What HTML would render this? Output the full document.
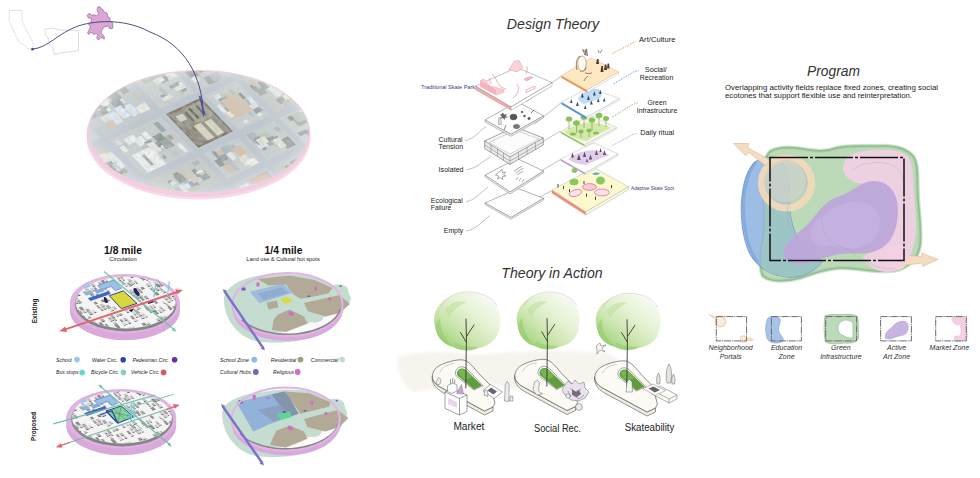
<!DOCTYPE html>
<html>
<head>
<meta charset="utf-8">
<title>Design Board</title>
<style>
html,body{margin:0;padding:0;background:#fff;}
body{width:980px;height:478px;overflow:hidden;font-family:"Liberation Sans",sans-serif;}
svg{display:block;}
text{font-family:"Liberation Sans",sans-serif;}
.t{font-style:italic;fill:#333;}
.h{fill:#222;}
.lg{font-style:italic;fill:#222;font-size:5.15px;}
</style>
</head>
<body>
<svg width="980" height="478" viewBox="0 0 980 478">
<defs>
  <filter id="b1" x="-20%" y="-20%" width="140%" height="140%"><feGaussianBlur stdDeviation="0.6"/></filter>
  <filter id="b2" x="-20%" y="-20%" width="140%" height="140%"><feGaussianBlur stdDeviation="1.5"/></filter>
  <filter id="b4" x="-30%" y="-30%" width="160%" height="160%"><feGaussianBlur stdDeviation="4"/></filter>
  <filter id="noiseA" x="0" y="0" width="100%" height="100%"><feTurbulence type="fractalNoise" baseFrequency="0.22" numOctaves="3" seed="4"/><feColorMatrix type="matrix" values="0 0 0 0 0.50  0 0 0 0 0.54  0 0 0 0 0.56  1.6 0.8 0 0 -0.9"/></filter>
  <radialGradient id="haze" cx="0.5" cy="0.5" r="0.5"><stop offset="0.55" stop-color="#fff" stop-opacity="0"/><stop offset="0.9" stop-color="#fff" stop-opacity="0.14"/><stop offset="1" stop-color="#fff" stop-opacity="0.3"/></radialGradient>
  <clipPath id="aerial"><ellipse cx="199" cy="131.6" rx="110" ry="61"/></clipPath>
</defs>
<rect width="980" height="478" fill="#fff"/>

<!-- ============ SECTION A: top-left aerial disc ============ -->
<g id="secA">
  <!-- pink base disc -->
  <ellipse cx="198.5" cy="137.5" rx="112" ry="62" fill="#f7dbe8" filter="url(#b1)"/>
  <ellipse cx="198.5" cy="134" rx="111.8" ry="63" fill="#f3cde0"/>
  <!-- aerial -->
  <ellipse cx="199" cy="131.6" rx="110" ry="61" fill="#c3cac8"/>
  <g clip-path="url(#aerial)">
<rect x="80" y="60" width="240" height="140" fill="#c2c9cd"/>
<g transform="matrix(34,-16,33,34.5,166,114)">
<path fill="#c0c8ca" d="M-2.93 -2.53h1.14v1.16h-1.14zM-2.93 -0.01h1.14v1.02h-1.14zM-2.93 1.15h1.14v0.73h-1.14zM-1.65 -1.23h1.5v1.08h-1.5zM-1.65 2.02h1.5v0.91h-1.5zM2.22 2.02h1.01v0.91h-1.01z"/>
<path fill="#c7cccc" d="M-2.93 -1.23h1.14v1.08h-1.14zM-1.65 -0.01h1.5v1.02h-1.5zM-0.01 2.02h1.02v0.91h-1.02zM1.15 -1.23h0.93v1.08h-0.93zM1.15 1.15h0.93v0.73h-0.93zM2.22 -1.23h1.01v1.08h-1.01z"/>
<path fill="#c3cacb" d="M-2.93 2.02h1.14v0.91h-1.14zM-0.01 -2.53h1.02v1.16h-1.02zM1.15 -2.53h0.93v1.16h-0.93z"/>
<path fill="#c5cac6" d="M-1.65 -2.53h1.5v1.16h-1.5zM-1.65 1.15h1.5v0.73h-1.5zM1.15 2.02h0.93v0.91h-0.93zM2.22 -0.01h1.01v1.02h-1.01z"/>
<path fill="#cacecd" d="M-0.01 -1.23h1.02v1.08h-1.02zM-0.01 1.15h1.02v0.73h-1.02zM1.15 -0.01h0.93v1.02h-0.93zM2.22 -2.53h1.01v1.16h-1.01zM2.22 1.15h1.01v0.73h-1.01z"/>
<path fill="#cfc8bc" d="M0.05 -1.73h0.22v0.11h-0.22zM-0.83 -0.49h0.17v0.16h-0.17zM-2.2 0.02h0.23v0.19h-0.23zM-1.54 -0.85h0.1v0.11h-0.1zM-1.22 0.05h0.11v0.13h-0.11zM-0.46 0.47h0.23v0.11h-0.23zM-2.89 2.06h0.25v0.25h-0.25z"/>
<path fill="#d4bfa8" d="M1.53 2.26h0.24v0.11h-0.24zM-1.48 -0.33h0.27v0.11h-0.27zM-1.43 0.82h0.27v0.12h-0.27zM1.42 -0.7h0.14v0.25h-0.14zM-2.08 1.29h0.17v0.09h-0.17zM-2.83 0.05h0.19v0.22h-0.19zM0.45 2.51h0.28v0.13h-0.28zM2.68 -0.89h0.1v0.13h-0.1zM-2.89 2.41h0.22v0.13h-0.22zM-2.11 -1.16h0.14v0.18h-0.14zM0.16 -1.15h0.24v0.19h-0.24zM-2.71 2.21h0.15v0.23h-0.15z"/>
<path fill="#dfe6ee" d="M2.44 -0.96h0.24v0.27h-0.24zM1.18 -2.44h0.21v0.17h-0.21zM1.4 0.86h0.13v0.09h-0.13zM2.65 2.64h0.14v0.23h-0.14zM0.74 -0.7h0.1v0.07h-0.1zM-1.33 -0.9h0.19v0.2h-0.19zM-1.48 1.68h0.13v0.13h-0.13zM3.09 2.29h0.1v0.24h-0.1zM2.74 2.44h0.21v0.11h-0.21zM-1.46 -0.8h0.17v0.09h-0.17z"/>
<path fill="#8f98a2" d="M-2.52 -0.73h0.23v0.26h-0.23zM0.28 2.3h0.22v0.13h-0.22zM0.44 -2.46h0.1v0.25h-0.1zM-0.8 0.45h0.1v0.11h-0.1zM-1.54 2.26h0.21v0.11h-0.21zM1.57 2.12h0.22v0.08h-0.22zM-0.91 0.69h0.08v0.19h-0.08zM-2.39 -1.53h0.19v0.08h-0.19zM0.33 1.24h0.11v0.24h-0.11zM0.17 -1.8h0.11v0.11h-0.11z"/>
<path fill="#e8e2d6" d="M-1.57 0.06h0.1v0.21h-0.1zM-1.44 -2.4h0.27v0.16h-0.27zM2.72 1.19h0.11v0.26h-0.11zM0.23 2.52h0.27v0.13h-0.27zM0.77 -1.5h0.13v0.1h-0.13zM-1.55 -2.34h0.17v0.24h-0.17zM-2.29 0.64h0.26v0.2h-0.26zM-1.3 -2.45h0.11v0.23h-0.11zM0.16 -1.14h0.23v0.22h-0.23zM0.54 -1.7h0.15v0.09h-0.15zM0.67 -1.71h0.17v0.09h-0.17zM1.21 -1.97h0.26v0.16h-0.26zM-0.35 -0.44h0.15v0.1h-0.15zM-0.47 2.66h0.21v0.15h-0.21zM1.64 1.57h0.25v0.12h-0.25zM2.71 2.33h0.19v0.24h-0.19zM-0.6 -1.87h0.17v0.16h-0.17zM-0.62 -1.57h0.16v0.12h-0.16z"/>
<path fill="#929ca0" d="M-1.14 2.11h0.28v0.17h-0.28zM-0.67 -1h0.24v0.1h-0.24zM-1.29 1.36h0.1v0.1h-0.1zM-2.79 2.34h0.13v0.27h-0.13zM2.38 -0.41h0.18v0.19h-0.18zM0.65 2.09h0.27v0.26h-0.27zM-1.01 2.39h0.16v0.24h-0.16zM-1.23 -1.66h0.12v0.23h-0.12zM-0.44 0.07h0.13v0.26h-0.13z"/>
<path fill="#b4bcc2" d="M0.47 1.19h0.22v0.2h-0.22zM0.51 -1.73h0.13v0.16h-0.13zM2.75 2.12h0.22v0.16h-0.22zM2.48 0.22h0.22v0.13h-0.22zM-1.15 0.36h0.17v0.18h-0.17zM1.39 1.34h0.17v0.21h-0.17zM2.4 -0.45h0.28v0.08h-0.28zM2.74 -0.62h0.1v0.19h-0.1z"/>
<path fill="#eef0f0" d="M-1.16 0.2h0.23v0.22h-0.23zM1.62 0.39h0.18v0.27h-0.18zM0.24 2.68h0.14v0.14h-0.14zM2.31 -2.36h0.22v0.14h-0.22zM-1.35 0.1h0.23v0.17h-0.23zM-2.89 -0.83h0.18v0.18h-0.18zM-0.37 0.69h0.1v0.26h-0.1zM0.47 -1.09h0.24v0.17h-0.24zM1.79 -2.14h0.22v0.19h-0.22zM-2.9 1.6h0.27v0.11h-0.27zM-1.16 0.11h0.09v0.27h-0.09z"/>
<path fill="#98a09c" d="M0.66 2.66h0.15v0.14h-0.15zM2.58 0.83h0.15v0.14h-0.15zM2.3 -1.17h0.11v0.13h-0.11zM2.6 1.61h0.19v0.17h-0.19zM1.3 0.42h0.28v0.2h-0.28zM-2.81 0.59h0.17v0.27h-0.17zM-0.44 -2.32h0.17v0.15h-0.17zM0.52 -0.8h0.19v0.16h-0.19zM1.48 1.43h0.15v0.19h-0.15zM2.5 0.74h0.26v0.14h-0.26zM1.19 -0.66h0.22v0.26h-0.22zM1.59 -1.81h0.28v0.08h-0.28zM1.46 2.4h0.08v0.11h-0.08z"/>
<path fill="#e6e9ea" d="M-0.75 0.48h0.25v0.16h-0.25zM-0.65 -0.85h0.07v0.24h-0.07zM0.73 -2.29h0.23v0.24h-0.23zM-2.33 0.19h0.26v0.21h-0.26zM-1.58 -2.26h0.25v0.26h-0.25zM0.08 2.14h0.24v0.08h-0.24zM-2.58 -1.6h0.27v0.19h-0.27zM0.37 1.37h0.17v0.12h-0.17zM-2.5 2.59h0.18v0.17h-0.18zM2.37 2.66h0.14v0.19h-0.14zM1.54 -1.82h0.13v0.25h-0.13zM3.04 -1.03h0.14v0.2h-0.14zM1.81 0.52h0.21v0.2h-0.21zM-1.29 1.62h0.13v0.07h-0.13zM2.56 0.44h0.23v0.27h-0.23z"/>
<path fill="#f0ece4" d="M1.83 0.73h0.11v0.2h-0.11zM0.16 -1h0.1v0.17h-0.1zM-0.71 0.4h0.14v0.2h-0.14zM1.61 2.21h0.15v0.07h-0.15zM2.88 0.62h0.16v0.17h-0.16zM1.51 -1.95h0.21v0.11h-0.21zM-0.37 -1.9h0.14v0.13h-0.14zM-0.76 2.54h0.09v0.08h-0.09zM2.92 -1.03h0.27v0.25h-0.27zM-1.97 -0.68h0.14v0.17h-0.14zM-2.58 0.08h0.12v0.11h-0.12z"/>
<path fill="#848e84" d="M-2.52 2.44h0.09v0.26h-0.09zM-2.07 1.68h0.07v0.17h-0.07zM-0.74 0.32h0.26v0.26h-0.26zM0.61 -1.04h0.08v0.26h-0.08zM2.39 1.2h0.25v0.12h-0.25zM-2.4 2.14h0.17v0.26h-0.17zM2.53 -1.54h0.08v0.14h-0.08zM2.85 -0.6h0.26v0.25h-0.26zM2.96 -0.75h0.23v0.12h-0.23zM-1.05 0.64h0.13v0.19h-0.13zM2.46 -2h0.1v0.22h-0.1zM-2.23 0.48h0.14v0.24h-0.14zM-2.15 0.7h0.25v0.1h-0.25z"/>
<path fill="#87928e" d="M-1 0.36h0.28v0.25h-0.28zM1.38 2.16h0.27v0.07h-0.27zM-2.47 -2.42h0.11v0.28h-0.11zM-2.47 0.16h0.23v0.13h-0.23zM-0.69 2.67h0.08v0.2h-0.08zM1.44 2.52h0.17v0.09h-0.17zM-0.66 -1.59h0.16v0.08h-0.16zM-1.21 2.36h0.15v0.21h-0.15zM1.25 -0.62h0.19v0.27h-0.19zM-2.57 -2.41h0.24v0.15h-0.24zM1.28 1.53h0.1v0.12h-0.1zM0.73 -0.53h0.17v0.25h-0.17zM1.53 2.51h0.07v0.28h-0.07zM-2.87 -1.12h0.08v0.11h-0.08zM0.69 2.6h0.1v0.27h-0.1z"/>
<path fill="#f4f4f2" d="M1.64 -2.16h0.23v0.14h-0.23zM-1.27 -2.26h0.23v0.23h-0.23zM-2.65 2.78h0.23v0.09h-0.23zM-1.12 -0.79h0.09v0.2h-0.09zM-0.68 -2.09h0.09v0.1h-0.09z"/>
<path fill="#a09f94" d="M1.79 -0.79h0.15v0.14h-0.15zM1.63 -0.99h0.25v0.19h-0.25zM-2.85 -1.87h0.17v0.21h-0.17zM-1.29 -2.26h0.11v0.08h-0.11zM2.95 2.49h0.09v0.24h-0.09zM3.07 2.5h0.11v0.11h-0.11zM-2.24 -0.33h0.13v0.12h-0.13zM-2.12 2.67h0.24v0.2h-0.24zM-1.34 1.65h0.17v0.19h-0.17z"/>
<path fill="#aab4ba" d="M-1.26 2.59h0.25v0.1h-0.25zM-1.28 1.57h0.12v0.27h-0.12zM-0.43 1.21h0.17v0.1h-0.17zM2.93 -0.54h0.24v0.17h-0.24zM-0.97 1.35h0.2v0.24h-0.2zM1.74 -0.87h0.1v0.14h-0.1zM-2.51 -0.33h0.27v0.15h-0.27z"/>
<path fill="#b9c2b8" d="M1.6 -0.7h0.1v0.23h-0.1zM1.81 -1.8h0.18v0.09h-0.18zM-0.63 -1.78h0.11v0.24h-0.11zM1.85 2.43h0.18v0.25h-0.18zM-2.89 0.47h0.28v0.08h-0.28zM0.26 -1.05h0.08v0.16h-0.08zM2.33 0.32h0.1v0.12h-0.1zM2.36 2.57h0.24v0.18h-0.24zM-2.47 1.54h0.17v0.15h-0.17zM2.69 1.75h0.25v0.1h-0.25zM-2.72 -2.42h0.09v0.19h-0.09z"/>
<path fill="#c9c0b2" d="M1.23 -1.05h0.14v0.15h-0.14zM2.63 2.47h0.19v0.24h-0.19zM0.03 -1.14h0.26v0.15h-0.26zM-0.31 -0.72h0.12v0.2h-0.12zM-0.95 2.51h0.25v0.17h-0.25zM1.38 0.15h0.24v0.23h-0.24zM-2.49 -1.95h0.13v0.1h-0.13zM1.2 -2.13h0.28v0.2h-0.28z"/>
<path fill="#c4c8cc" d="M2.73 -2.25h0.25v0.27h-0.25zM-0.54 2.51h0.24v0.11h-0.24zM-2.63 -1.1h0.16v0.11h-0.16zM-2.18 -0.59h0.24v0.28h-0.24z"/>
<path fill="#929ca0" d="M-0.53 1.48h0.21v0.21h-0.21zM-1.37 -0.68h0.19v0.19h-0.19zM-2.87 1.54h0.25v0.13h-0.25zM0.23 -0.42h0.16v0.1h-0.16zM-2.41 -0.47h0.11v0.13h-0.11zM-2.08 -1.01h0.22v0.25h-0.22zM1.83 0.75h0.21v0.1h-0.21zM-1.09 0.69h0.23v0.11h-0.23zM0.69 2.34h0.13v0.18h-0.13zM3.01 -0.88h0.12v0.15h-0.12zM-1.56 -0.78h0.23v0.18h-0.23z"/>
<path fill="#87928e" d="M-2.55 -0.89h0.22v0.28h-0.22zM2.74 -2.27h0.14v0.17h-0.14zM-1.46 -1.03h0.18v0.26h-0.18zM1.78 1.59h0.26v0.25h-0.26zM-1.46 2.57h0.26v0.23h-0.26zM1.89 -0.94h0.15v0.11h-0.15zM2.3 1.62h0.24v0.09h-0.24zM1.66 0.27h0.27v0.17h-0.27zM0.06 2.71h0.23v0.1h-0.23z"/>
<path fill="#c4c8cc" d="M-2.5 -1.73h0.21v0.23h-0.21zM0.23 -2.45h0.23v0.19h-0.23zM-0.51 0.47h0.08v0.25h-0.08zM-0.82 0.32h0.11v0.15h-0.11zM-1.17 1.76h0.27v0.09h-0.27zM1.31 -1.11h0.14v0.2h-0.14zM0.14 -1.1h0.22v0.23h-0.22zM-1.13 1.62h0.24v0.24h-0.24zM-2.26 2.18h0.14v0.16h-0.14z"/>
<path fill="#a09f94" d="M0.35 -1.64h0.2v0.13h-0.2zM-2.8 2.23h0.21v0.13h-0.21zM-0.42 0.44h0.11v0.13h-0.11zM-2.75 -0.52h0.23v0.17h-0.23zM-0.4 -1.11h0.11v0.1h-0.11zM-0.84 2.51h0.2v0.2h-0.2zM-1.26 -1.89h0.21v0.26h-0.21zM1.28 2.5h0.26v0.25h-0.26zM-0.57 2.57h0.17v0.18h-0.17zM2.93 2.78h0.09v0.09h-0.09zM-2.11 -1.11h0.14v0.21h-0.14zM2.48 1.67h0.24v0.11h-0.24z"/>
<path fill="#98a09c" d="M1.79 -2.25h0.14v0.26h-0.14zM2.46 1.29h0.26v0.21h-0.26zM0.22 -1.78h0.17v0.19h-0.17zM-1.61 -0.69h0.17v0.1h-0.17zM-2.04 2.51h0.18v0.21h-0.18zM-1.21 -0.76h0.08v0.19h-0.08zM-1.24 -0.86h0.19v0.2h-0.19zM-2.57 1.52h0.27v0.21h-0.27zM3.01 0.39h0.07v0.23h-0.07zM-2.27 1.3h0.25v0.12h-0.25zM1.44 -0.37h0.28v0.2h-0.28zM-2.41 1.28h0.12v0.13h-0.12z"/>
<path fill="#dfe6ee" d="M-0.95 0.65h0.07v0.17h-0.07zM0.78 -1.98h0.15v0.22h-0.15zM2.73 2.6h0.13v0.13h-0.13zM-0.57 2.3h0.1v0.12h-0.1zM2.97 1.18h0.08v0.27h-0.08zM-2.58 -1.85h0.24v0.13h-0.24zM0.79 -0.83h0.11v0.16h-0.11zM-1.27 1.41h0.14v0.08h-0.14zM-1.15 1.55h0.1v0.25h-0.1zM-2.48 2.18h0.21v0.26h-0.21zM0.26 2.43h0.1v0.25h-0.1z"/>
<path fill="#e8e2d6" d="M-2.22 -2.08h0.08v0.11h-0.08zM2.87 -1.7h0.24v0.11h-0.24zM-2.69 -0.94h0.24v0.11h-0.24zM-1.32 -2.26h0.22v0.11h-0.22zM0.25 2.49h0.08v0.2h-0.08zM0.56 -2.42h0.08v0.13h-0.08zM2.6 0.19h0.22v0.18h-0.22zM-2.54 1.2h0.27v0.15h-0.27zM-1.09 -2.4h0.18v0.1h-0.18zM3 -0.73h0.15v0.28h-0.15zM-2.87 -1.72h0.27v0.15h-0.27zM-2.9 0.09h0.26v0.13h-0.26zM0.46 -2.16h0.26v0.21h-0.26zM1.55 2.27h0.18v0.15h-0.18zM-2.14 0.2h0.16v0.26h-0.16zM2.88 0.48h0.26v0.24h-0.26zM0.61 1.53h0.24v0.26h-0.24zM-1.21 -0.49h0.27v0.08h-0.27zM2.73 0.47h0.22v0.14h-0.22z"/>
<path fill="#b9c2b8" d="M-0.81 2.44h0.11v0.26h-0.11zM0.26 2.31h0.23v0.1h-0.23zM-1.41 1.57h0.08v0.18h-0.08zM-0.76 -0.9h0.09v0.18h-0.09zM1.48 2.15h0.09v0.24h-0.09zM-0.9 0.65h0.17v0.08h-0.17zM1.72 0.11h0.1v0.2h-0.1zM-2.91 1.58h0.21v0.17h-0.21zM1.44 1.3h0.25v0.24h-0.25zM-2.62 -2.39h0.18v0.2h-0.18z"/>
<path fill="#eef0f0" d="M-0.51 -1.77h0.08v0.16h-0.08zM-2.64 -1.7h0.09v0.14h-0.09zM-2.8 0.66h0.13v0.27h-0.13zM-2.62 -0.75h0.28v0.21h-0.28zM-2.87 0.15h0.2v0.22h-0.2zM2.45 -1.19h0.25v0.28h-0.25zM0.7 -1.8h0.27v0.12h-0.27zM2.82 -2.5h0.07v0.13h-0.07zM-2.12 1.45h0.22v0.12h-0.22zM1.24 2.64h0.1v0.26h-0.1zM-0.89 0.15h0.15v0.19h-0.15zM1.88 0.75h0.12v0.1h-0.12zM-0.9 2.32h0.19v0.16h-0.19z"/>
<path fill="#f0ece4" d="M1.77 -0.52h0.24v0.11h-0.24zM-2.44 -2.31h0.14v0.2h-0.14zM0.69 -0.86h0.18v0.11h-0.18zM-0.79 2.57h0.13v0.19h-0.13zM-0.5 -0.42h0.28v0.17h-0.28zM-2.71 -2.43h0.21v0.15h-0.21zM1.24 0.54h0.11v0.14h-0.11zM0.49 1.27h0.1v0.26h-0.1zM0.25 -0.99h0.22v0.09h-0.22z"/>
<path fill="#cfc8bc" d="M0.67 2.11h0.2v0.13h-0.2zM-1.99 0.16h0.09v0.13h-0.09zM-2.91 2.3h0.17v0.19h-0.17zM1.22 -0.49h0.11v0.26h-0.11zM-1.12 2.05h0.26v0.2h-0.26zM-2.55 -1.92h0.11v0.27h-0.11zM2.63 -1.71h0.28v0.08h-0.28zM-0.52 1.49h0.17v0.07h-0.17zM-2.49 -0.53h0.24v0.11h-0.24z"/>
<path fill="#f4f4f2" d="M1.8 -1.91h0.24v0.14h-0.24zM-0.82 1.45h0.26v0.2h-0.26zM0.69 1.7h0.25v0.14h-0.25zM1.19 0.31h0.09v0.23h-0.09zM-2.12 -1.92h0.18v0.28h-0.18zM-1.17 -0.88h0.22v0.15h-0.22zM-1.96 0.4h0.13v0.27h-0.13zM-0.71 -0.52h0.1v0.27h-0.1zM1.46 0.19h0.09v0.13h-0.09zM-1.58 -2.18h0.22v0.14h-0.22z"/>
<path fill="#e6e9ea" d="M-2.01 -0.57h0.15v0.15h-0.15zM-2.61 -1.04h0.28v0.27h-0.28zM0.33 2.59h0.18v0.27h-0.18zM-2.81 -2.14h0.07v0.1h-0.07zM2.81 2.55h0.1v0.13h-0.1zM0.67 -0.51h0.26v0.17h-0.26zM2.32 -2.28h0.13v0.18h-0.13zM0.87 -0.86h0.1v0.23h-0.1zM1.33 -1.04h0.24v0.14h-0.24zM-0.78 -0.55h0.08v0.08h-0.08zM2.67 0.33h0.26v0.12h-0.26z"/>
<path fill="#b4bcc2" d="M-2.7 -2.33h0.26v0.15h-0.26zM0.34 -0.58h0.09v0.2h-0.09zM1.68 0.66h0.08v0.19h-0.08zM0.23 -0.87h0.12v0.08h-0.12zM1.61 -0.38h0.25v0.19h-0.25zM2.58 1.25h0.11v0.08h-0.11zM3 1.51h0.15v0.16h-0.15zM-2.91 1.5h0.14v0.25h-0.14z"/>
<path fill="#aab4ba" d="M2.38 0.33h0.15v0.11h-0.15zM1.21 1.17h0.22v0.26h-0.22zM-0.47 -1.88h0.15v0.26h-0.15zM2.52 -1.85h0.15v0.15h-0.15zM0.69 1.24h0.09v0.16h-0.09zM2.32 -1.77h0.16v0.19h-0.16zM1.66 -1.19h0.25v0.22h-0.25zM-2.45 -0.55h0.21v0.24h-0.21zM0.44 1.18h0.18v0.18h-0.18z"/>
<path fill="#d4bfa8" d="M1.29 2.69h0.24v0.08h-0.24zM-2.9 0.47h0.28v0.25h-0.28zM0.24 1.22h0.19v0.26h-0.19zM-2.35 2.7h0.12v0.12h-0.12z"/>
<path fill="#848e84" d="M2.24 0.22h0.12v0.19h-0.12zM1.61 1.48h0.22v0.14h-0.22zM-2.35 1.32h0.15v0.28h-0.15zM-1.97 2.21h0.13v0.23h-0.13zM-0.68 0.44h0.23v0.26h-0.23zM1.48 -0.71h0.12v0.21h-0.12zM-0.58 2.76h0.11v0.08h-0.11zM-2.9 2.24h0.12v0.2h-0.12z"/>
<path fill="#8f98a2" d="M0.48 2.7h0.12v0.09h-0.12zM2.42 -0.69h0.18v0.07h-0.18zM2.26 -2.46h0.2v0.12h-0.2zM2.46 1.65h0.13v0.14h-0.13zM-0.91 -0.76h0.24v0.26h-0.24zM-2.39 -0.75h0.14v0.12h-0.14zM0.18 1.18h0.09v0.22h-0.09zM-2.43 -0.66h0.08v0.19h-0.08zM-2.46 0.02h0.07v0.19h-0.07zM0.46 -0.79h0.28v0.1h-0.28zM0.57 2.51h0.25v0.07h-0.25zM1.66 -2.14h0.18v0.18h-0.18z"/>
<path fill="#c9c0b2" d="M2.52 -0.74h0.18v0.09h-0.18zM-0.64 0.82h0.12v0.12h-0.12zM2.59 0.84h0.13v0.14h-0.13zM-1.58 -1.1h0.18v0.21h-0.18zM2.5 -0.34h0.21v0.09h-0.21zM0.2 -2.11h0.15v0.23h-0.15zM1.33 2.71h0.25v0.19h-0.25zM-2.4 -2.09h0.22v0.19h-0.22zM2.74 1.24h0.27v0.21h-0.27z"/>
<path fill="#c9c0b2" d="M0.48 2.3h0.12v0.15h-0.12zM1.25 2.27h0.21v0.24h-0.21zM1.2 2.13h0.17v0.28h-0.17zM2.31 0.11h0.18v0.17h-0.18zM-1.11 0.4h0.2v0.08h-0.2zM-2.45 -1.69h0.27v0.09h-0.27zM0.69 -0.33h0.08v0.1h-0.08zM-2.07 0.79h0.1v0.09h-0.1zM2.44 -1.75h0.15v0.25h-0.15z"/>
<path fill="#929ca0" d="M-0.94 1.57h0.26v0.16h-0.26zM0.68 -2.19h0.18v0.12h-0.18zM1.35 -2.35h0.08v0.12h-0.08zM1.26 -2.32h0.26v0.18h-0.26zM1.68 0.39h0.17v0.08h-0.17zM-0.95 -1.78h0.09v0.09h-0.09zM2.37 -1.63h0.25v0.14h-0.25zM-1.38 -2.44h0.2v0.24h-0.2zM-0.87 2.24h0.26v0.19h-0.26zM2.46 -1.97h0.13v0.18h-0.13zM-0.42 -2.42h0.24v0.21h-0.24zM2.85 -1.1h0.28v0.14h-0.28zM1.84 -1.09h0.09v0.13h-0.09zM1.85 0.73h0.17v0.11h-0.17zM2.87 -1.61h0.2v0.09h-0.2z"/>
<path fill="#8f98a2" d="M1.55 1.44h0.19v0.17h-0.19zM1.62 -1.56h0.17v0.16h-0.17zM-1.01 -1.83h0.12v0.25h-0.12zM-2.76 0.81h0.27v0.12h-0.27zM1.77 -1.1h0.2v0.11h-0.2zM3.06 1.28h0.14v0.11h-0.14zM-2.18 0.42h0.25v0.08h-0.25zM1.27 -2.23h0.26v0.16h-0.26zM0.19 1.35h0.23v0.14h-0.23zM-2.06 -2.43h0.12v0.15h-0.12z"/>
<path fill="#dfe6ee" d="M1.29 0.07h0.17v0.15h-0.17zM-2.33 -2.26h0.12v0.17h-0.12zM-1.35 -1.79h0.08v0.17h-0.08zM1.96 0.44h0.09v0.22h-0.09zM1.23 1.47h0.25v0.12h-0.25zM-0.97 -1.05h0.15v0.15h-0.15zM-1.15 1.58h0.26v0.12h-0.26zM1.71 2.19h0.09v0.26h-0.09zM-2.91 0.22h0.11v0.18h-0.11zM-2.42 1.58h0.09v0.12h-0.09z"/>
<path fill="#d4bfa8" d="M-2.73 2.67h0.26v0.17h-0.26zM0.67 1.31h0.22v0.24h-0.22zM-0.37 -1.78h0.08v0.22h-0.08zM1.59 -1.96h0.15v0.15h-0.15zM-0.98 1.26h0.23v0.27h-0.23zM1.83 -1.9h0.15v0.08h-0.15zM2.71 0.04h0.21v0.09h-0.21zM-0.65 -2.4h0.27v0.08h-0.27zM0.73 -2.29h0.15v0.23h-0.15zM2.87 0.3h0.12v0.2h-0.12zM2.51 1.2h0.15v0.21h-0.15zM0.14 1.55h0.19v0.23h-0.19z"/>
<path fill="#98a09c" d="M-1.33 -2.09h0.27v0.15h-0.27zM1.51 -2.2h0.26v0.13h-0.26zM-0.54 -2.46h0.26v0.17h-0.26zM0.28 -2.44h0.21v0.26h-0.21zM2.82 0.51h0.1v0.17h-0.1zM1.33 0.2h0.22v0.21h-0.22zM-0.48 -1h0.18v0.21h-0.18zM0.42 -2.23h0.12v0.1h-0.12zM0.59 -0.53h0.25v0.08h-0.25zM-0.51 -1.17h0.22v0.12h-0.22zM-0.82 -0.94h0.25v0.21h-0.25zM-1.36 -0.97h0.22v0.23h-0.22zM-0.67 0.49h0.24v0.22h-0.24zM2.27 -0.58h0.25v0.22h-0.25zM-1.36 -0.84h0.24v0.11h-0.24z"/>
<path fill="#aab4ba" d="M-0.36 -2.39h0.13v0.14h-0.13zM-0.81 -2.08h0.08v0.07h-0.08zM2.48 -0.77h0.24v0.13h-0.24zM-1.19 -2.34h0.25v0.28h-0.25zM-2.8 -2.2h0.13v0.1h-0.13zM-1.44 -0.81h0.13v0.24h-0.13zM1.74 0.47h0.19v0.14h-0.19zM2.64 2.22h0.08v0.14h-0.08zM1.91 1.29h0.12v0.12h-0.12zM3.05 1.58h0.16v0.19h-0.16zM-1.43 2.49h0.22v0.12h-0.22z"/>
<path fill="#cfc8bc" d="M2.82 0.2h0.21v0.26h-0.21zM2.63 2.62h0.1v0.1h-0.1zM2.71 0.68h0.24v0.17h-0.24zM-0.78 1.37h0.21v0.28h-0.21z"/>
<path fill="#c4c8cc" d="M-0.92 0.62h0.12v0.17h-0.12zM2.56 2.32h0.25v0.22h-0.25zM1.54 0.59h0.16v0.14h-0.16zM-0.48 2.06h0.18v0.17h-0.18zM-0.79 -1.14h0.14v0.2h-0.14zM1.35 -1.18h0.25v0.1h-0.25zM1.32 -0.46h0.13v0.17h-0.13z"/>
<path fill="#b4bcc2" d="M0.25 1.49h0.2v0.11h-0.2zM-1.07 2.51h0.16v0.14h-0.16zM2.78 -2.09h0.28v0.14h-0.28zM2.78 2.34h0.19v0.16h-0.19zM-1.63 0.19h0.24v0.11h-0.24zM0.32 1.59h0.1v0.21h-0.1zM2.95 2.18h0.13v0.26h-0.13zM2.72 -0.83h0.22v0.08h-0.22zM-2.32 0.04h0.16v0.26h-0.16z"/>
<path fill="#b9c2b8" d="M2.54 1.19h0.21v0.23h-0.21zM1.59 1.53h0.12v0.17h-0.12zM-1.24 -2.3h0.21v0.11h-0.21zM2.62 1.22h0.14v0.15h-0.14zM-1.02 1.71h0.28v0.11h-0.28zM-0.73 2.31h0.1v0.09h-0.1z"/>
<path fill="#eef0f0" d="M2.7 -2.22h0.17v0.16h-0.17zM0.45 1.47h0.08v0.1h-0.08zM2.66 -1.58h0.17v0.13h-0.17zM-2.11 -1.82h0.19v0.18h-0.19zM-2.87 -2.1h0.08v0.18h-0.08zM-2.79 -0.63h0.23v0.1h-0.23zM-0.41 -2.12h0.22v0.25h-0.22z"/>
<path fill="#87928e" d="M-2.79 1.51h0.18v0.27h-0.18zM-0.58 1.36h0.11v0.21h-0.11zM-1.06 1.32h0.21v0.2h-0.21zM2.29 2.31h0.16v0.25h-0.16zM-1.03 1.26h0.14v0.25h-0.14zM-2.68 -2.16h0.2v0.1h-0.2zM-2.15 -2.36h0.09v0.16h-0.09zM1.28 1.32h0.17v0.17h-0.17zM-2.91 2.12h0.09v0.23h-0.09zM2.47 0.23h0.13v0.21h-0.13zM-2.47 1.62h0.26v0.09h-0.26zM0.07 1.39h0.15v0.18h-0.15z"/>
<path fill="#848e84" d="M-2.68 2.16h0.16v0.19h-0.16zM1.36 1.43h0.26v0.1h-0.26zM-1.1 2.36h0.23v0.11h-0.23zM0.73 2.67h0.16v0.18h-0.16zM-1.07 2.61h0.18v0.23h-0.18zM-1.46 0.65h0.2v0.17h-0.2zM0.43 -1.82h0.1v0.24h-0.1zM2.87 -0.98h0.08v0.07h-0.08z"/>
<path fill="#f0ece4" d="M0.22 -0.36h0.26v0.09h-0.26zM-0.53 1.44h0.17v0.07h-0.17zM-2.66 0.51h0.22v0.17h-0.22zM-2.9 1.2h0.13v0.19h-0.13zM2.49 -1.83h0.21v0.2h-0.21zM0.14 -1.59h0.22v0.17h-0.22zM-1.14 -1h0.25v0.23h-0.25zM2.39 -0.51h0.26v0.15h-0.26zM-1.6 0.22h0.14v0.16h-0.14zM-0.39 -1.76h0.14v0.11h-0.14zM-1.23 -1.8h0.15v0.23h-0.15zM0.39 -0.94h0.25v0.26h-0.25zM1.41 -0.99h0.13v0.08h-0.13zM2.95 -2.38h0.26v0.24h-0.26zM-0.98 2.13h0.14v0.11h-0.14zM2.87 -1.5h0.19v0.09h-0.19zM2.95 2.35h0.1v0.25h-0.1zM-2.03 1.2h0.15v0.26h-0.15z"/>
<path fill="#a09f94" d="M-0.75 2.15h0.16v0.28h-0.16zM1.48 -1.75h0.17v0.17h-0.17zM2.27 0.38h0.2v0.15h-0.2zM2.76 -1.83h0.17v0.08h-0.17zM-2.37 1.36h0.2v0.11h-0.2zM-0.42 -2.29h0.1v0.17h-0.1zM-1.61 2.31h0.26v0.16h-0.26zM2.83 -2.2h0.08v0.14h-0.08zM0.27 -2.01h0.1v0.23h-0.1zM-2.68 -1.09h0.21v0.15h-0.21zM0.29 2.52h0.18v0.25h-0.18zM-2.48 2.32h0.09v0.12h-0.09zM0.03 -2.48h0.28v0.15h-0.28zM0.82 -2.3h0.11v0.23h-0.11zM2.88 -1.87h0.11v0.14h-0.11z"/>
<path fill="#e8e2d6" d="M1.25 -2.42h0.1v0.23h-0.1zM-2.38 -0.53h0.14v0.18h-0.14zM-2.8 2.46h0.17v0.21h-0.17zM1.62 2.31h0.25v0.27h-0.25zM1.31 1.36h0.25v0.17h-0.25zM-2.64 0.53h0.19v0.15h-0.19zM2.46 -0.38h0.23v0.2h-0.23zM1.65 1.52h0.19v0.25h-0.19zM1.82 -2.46h0.2v0.25h-0.2zM1.88 -2.5h0.11v0.16h-0.11zM-1.41 -0.56h0.23v0.16h-0.23zM0.25 2.21h0.2v0.17h-0.2zM0.4 -0.75h0.12v0.09h-0.12zM-1.09 2.36h0.13v0.24h-0.13zM2.7 0.72h0.27v0.13h-0.27z"/>
<path fill="#f4f4f2" d="M1.41 -2.13h0.23v0.09h-0.23zM2.24 2.19h0.19v0.09h-0.19zM-2.49 2.41h0.09v0.27h-0.09zM3.06 -1.92h0.09v0.11h-0.09z"/>
<path fill="#e6e9ea" d="M0.65 -1.84h0.24v0.2h-0.24zM-2.82 -0.6h0.24v0.22h-0.24zM-2.02 0.23h0.18v0.26h-0.18zM1.19 -0.48h0.16v0.13h-0.16zM-2.81 -0.79h0.25v0.1h-0.25zM-1.93 -2.05h0.09v0.17h-0.09zM1.38 2.39h0.27v0.14h-0.27zM-0.98 0.42h0.19v0.27h-0.19z"/>
<path fill="#bbc3cd" d="M-3.07 -4h0.14v9h-0.14zM-1.79 -4h0.14v9h-0.14zM-0.15 -4h0.14v9h-0.14zM1.01 -4h0.14v9h-0.14zM2.08 -4h0.14v9h-0.14zM3.23 -4h0.14v9h-0.14zM-5 -2.67h11v0.14h-11zM-5 -1.37h11v0.14h-11zM-5 -0.15h11v0.14h-11zM-5 1.01h11v0.14h-11zM-5 1.88h11v0.14h-11zM-5 2.93h11v0.14h-11z"/>
<rect x="-1.5" y="0.5" width="0.55" height="0.5" fill="#f1f2f0"/><rect x="-1.3" y="0.6" width="0.08" height="0.3" fill="#9aa2a6"/>
<rect x="-1.2" y="-0.55" width="0.2" height="0.3" fill="#dde8f2"/><rect x="-0.95" y="-0.6" width="0.2" height="0.3" fill="#e3ecf4"/><rect x="-0.7" y="-0.55" width="0.18" height="0.28" fill="#dde8f2"/>
<rect x="0.15" y="-1.1" width="0.75" height="0.3" fill="#aebcae"/>
<rect x="1.35" y="0.25" width="0.5" height="0.5" fill="#d8c2ac"/>
<rect x="0.4" y="2.1" width="0.5" height="0.4" fill="#d2bca8"/>
<rect x="0" y="0" width="1.02" height="0.98" fill="#756a58"/>
<rect x="0.04" y="0.05" width="0.94" height="0.88" fill="#8d8777"/>
<rect x="0.45" y="0.07" width="0.5" height="0.4" fill="#9c9c8a"/>
<rect x="0.06" y="0.5" width="0.3" height="0.42" fill="#857b6a"/>
<g fill="#d9d6be"><rect x="0.14" y="0.14" width="0.2" height="0.16"/><rect x="0.33" y="0.5" width="0.2" height="0.42"/><rect x="0.62" y="0.52" width="0.2" height="0.4"/></g>
<g fill="#5d5a4c"><rect x="0.55" y="0.1" width="0.06" height="0.3"/><rect x="0.75" y="0.1" width="0.06" height="0.3"/><rect x="0.4" y="0.15" width="0.06" height="0.25"/></g>
</g>




    <!-- photo noise -->
    <rect x="80" y="60" width="240" height="140" fill="#fff" filter="url(#noiseA)" opacity="0.55"/>
    <!-- fade to washed-out look -->
    <rect x="80" y="60" width="240" height="140" fill="#e6ecee" opacity="0.1"/>
  </g>
  <ellipse cx="199" cy="131.6" rx="110" ry="61" fill="url(#haze)"/>
  <!-- rim highlight -->
  <ellipse cx="199" cy="131.6" rx="110.3" ry="61.2" fill="none" stroke="#f3d3e2" stroke-width="1"/>

  <!-- CA outline -->
  <path d="M9.5 10.5 L22 10.5 L22 21 L33.5 44 L32.5 48 L28 49 L24 45 L19 42 L15 34 L12 27 L9 20 Z" fill="none" stroke="#d9d9d9" stroke-width="0.7"/>
  <!-- county outline -->
  <path d="M45 29 L52 28 L60 30 L78.5 30.5 L78.5 50.5 L60 53 L54.5 54.5 L53 48 L50 45 L48 38 L45 34 Z" fill="none" stroke="#cfcfcf" stroke-width="0.7"/>
  <!-- city blob -->
  <path d="M97.5 7 L100 6.5 L101.5 9 L103 9.5 L104 12 L107 13 L108 17 L110 18 L110 21 L112.5 22.5 L113 28 L110 29 L108 26 L104 27 L102 30 L101 33 L104 36 L104.5 39 L101 37.5 L98.5 40 L96.5 38 L98 35 L96 33.5 L93.5 34.5 L91 32 L89 34.5 L87.5 33 L89.5 29 L90.5 26 L88.5 24.5 L91 22 L91.5 18.5 L88.5 18 L87 15.5 L89.5 13 L92 15.5 L94 14.5 L96.5 16 L98.5 13.5 L97 10 Z" fill="#dca6d4" stroke="#6a4a7a" stroke-width="0.5"/>
  <!-- arc -->
  <path d="M32.5 49 C48 48 58 33 78 26 C100 19 128 20 150 32 C185 45 202 76 203.4 114" fill="none" stroke="#3d3b78" stroke-width="0.9"/>
  <circle cx="32.5" cy="49.2" r="1.3" fill="#6a2a9a"/>
  <path d="M199.6 96 Q202.6 106 203.3 113" stroke="#5452a8" stroke-width="1.6" fill="none"/><path d="M201.2 111.5 L203.6 117 L205.4 111.3 Z" fill="#5452a8"/>
</g>

<!-- ============ SECTION B: bottom-left discs ============ -->
<g id="secB">
<defs>
<clipPath id="faceclip"><ellipse cx="0" cy="-0.8" rx="50" ry="26"/></clipPath>
<g id="circbase">
<path d="M-55.8 0.5 A55 29.5 0 0 1 54.2 0.5 L54.2 7.5 A55 29.5 0 0 1 -55.8 7.5 Z" fill="#d9a9dc"/>
<ellipse cx="-0.8" cy="0.5" rx="55" ry="29.5" fill="#e0b4e2"/>
<ellipse cx="0" cy="1.0" rx="50.8" ry="27.2" fill="#858585"/>
<ellipse cx="0" cy="-0.8" rx="50" ry="26" fill="#f4f4f4"/>
<g clip-path="url(#faceclip)"><g transform="matrix(14.5,-5,11.2,11.7,-15.8,-7)">
<path fill="#9a9a9a" d="M-3.65 -1.22h0.18v0.23h-0.18zM-3.42 -0.7h0.18v0.21h-0.18zM-3.19 -1.22h0.17v0.23h-0.17zM-3.13 0.05h0.12v0.15h-0.12zM-3.12 0.36h0.14v0.13h-0.14zM-2.93 1.99h0.14v0.16h-0.14zM-2.47 -0.46h0.17v0.18h-0.17zM-2.14 -0.96h0.15v0.15h-0.15zM-2.39 0.29h0.14v0.16h-0.14zM-2.47 3.16h0.21v0.18h-0.21zM-2.22 2.53h0.21v0.13h-0.21zM-1.7 2.94h0.18v0.2h-0.18zM-2.47 3.66h0.22v0.14h-0.22zM-0.69 -3.2h0.21v0.2h-0.21zM-0.64 -1.87h0.17v0.11h-0.17zM-0.96 -0.68h0.21v0.19h-0.21zM-0.66 -0.42h0.15v0.14h-0.15zM-1.19 0.29h0.13v0.21h-0.13zM-1.15 3.17h0.16v0.19h-0.16zM0.05 -2.94h0.16v0.21h-0.16zM0.52 -3.39h0.2v0.17h-0.2zM0.27 -2.39h0.23v0.15h-0.23zM0.08 -0.42h0.14v0.11h-0.14zM0.04 1.74h0.15v0.19h-0.15zM0.04 2.72h0.15v0.12h-0.15zM0.27 2.45h0.21v0.14h-0.21zM0.31 3.64h0.11v0.17h-0.11zM1.47 -3.19h0.17v0.21h-0.17zM1.97 -3.44h0.21v0.18h-0.21zM1.97 -2.91h0.21v0.19h-0.21zM1.22 -1.72h0.18v0.15h-0.18zM1.49 -1.7h0.12v0.2h-0.12zM1.74 -2.23h0.19v0.15h-0.19zM1.96 -2.47h0.21v0.19h-0.21zM1.53 0.29h0.12v0.17h-0.12zM1.22 1.51h0.22v0.18h-0.22zM1.52 1.95h0.16v0.19h-0.16zM1.74 3.93h0.19v0.12h-0.19zM2.98 -2.46h0.15v0.2h-0.15zM2.5 -0.45h0.15v0.12h-0.15zM2.44 3.65h0.17v0.2h-0.17zM2.67 4.37h0.13v0.11h-0.13zM4.17 -0.92h0.16v0.16h-0.16zM3.64 0.06h0.2v0.14h-0.2zM3.94 1.47h0.11v0.2h-0.11zM4.17 1.27h0.14v0.18h-0.14zM4.44 1.75h0.13v0.16h-0.13zM3.66 2.93h0.18v0.12h-0.18zM3.72 3.16h0.11v0.11h-0.11zM3.89 3.17h0.19v0.11h-0.19z"/>
<path fill="#4a4a4a" d="M-3.65 -0.99h0.18v0.05h-0.18zM-3.67 -0.5h0.18v0.05h-0.18zM-3.67 -0.26h0.21v0.05h-0.21zM-3.44 -1.03h0.18v0.05h-0.18zM-3.42 -0.49h0.18v0.05h-0.18zM-3.4 -0.26h0.18v0.05h-0.18zM-3.19 -0.99h0.17v0.05h-0.17zM-3.19 -0.79h0.11v0.05h-0.11zM-3.2 -0.5h0.22v0.05h-0.22zM-3.2 -0.25h0.23v0.05h-0.23zM-2.92 -0.99h0.15v0.05h-0.15zM-3.63 0.21h0.13v0.05h-0.13zM-3.59 0.42h0.15v0.05h-0.15zM-3.55 0.7h0.11v0.05h-0.11zM-3.33 0.46h0.11v0.05h-0.11zM-3.4 0.95h0.14v0.05h-0.14zM-3.13 0.2h0.12v0.05h-0.12zM-3.12 0.49h0.14v0.05h-0.14zM-3.19 0.67h0.15v0.05h-0.15zM-2.93 0.25h0.14v0.05h-0.14zM-2.95 0.46h0.13v0.05h-0.13zM-2.96 0.66h0.22v0.05h-0.22zM-3.67 1.69h0.17v0.05h-0.17zM-3.65 1.9h0.19v0.05h-0.19zM-3.66 2.09h0.16v0.05h-0.16zM-3.4 1.37h0.2v0.05h-0.2zM-3.42 1.69h0.22v0.05h-0.22zM-3.4 1.93h0.19v0.05h-0.19zM-3.42 2.16h0.18v0.05h-0.18zM-3.19 1.68h0.23v0.05h-0.23zM-3.18 1.82h0.21v0.05h-0.21zM-3.15 2.16h0.14v0.05h-0.14zM-2.95 1.93h0.19v0.05h-0.19zM-2.93 2.15h0.14v0.05h-0.14zM-3.65 2.61h0.15v0.05h-0.15zM-3.68 2.9h0.22v0.05h-0.22zM-3.67 3.36h0.22v0.05h-0.22zM-3.43 2.65h0.21v0.05h-0.21zM-3.37 2.87h0.11v0.05h-0.11zM-3.38 3.06h0.16v0.05h-0.16zM-3.44 3.33h0.23v0.05h-0.23zM-3.18 2.57h0.19v0.05h-0.19zM-3.18 2.87h0.17v0.05h-0.17zM-3.2 3.14h0.2v0.05h-0.2zM-2.94 2.65h0.18v0.05h-0.18zM-2.92 2.88h0.19v0.05h-0.19zM-2.95 3.38h0.23v0.05h-0.23zM-2.47 -2.02h0.12v0.05h-0.12zM-2.42 -1.85h0.18v0.05h-0.18zM-2.22 -2.29h0.21v0.05h-0.21zM-2.22 -1.99h0.18v0.05h-0.18zM-2.19 -1.73h0.18v0.05h-0.18zM-2.15 -1.5h0.16v0.05h-0.16zM-1.96 -2.26h0.18v0.05h-0.18zM-1.91 -1.98h0.12v0.05h-0.12zM-1.95 -1.8h0.2v0.05h-0.2zM-1.62 -2.24h0.13v0.05h-0.13zM-1.72 -2.04h0.13v0.05h-0.13zM-2.46 -0.78h0.2v0.05h-0.2zM-2.44 -0.48h0.19v0.05h-0.19zM-2.47 -0.28h0.17v0.05h-0.17zM-2.2 -1.02h0.22v0.05h-0.22zM-2.14 -0.8h0.15v0.05h-0.15zM-2.14 -0.55h0.13v0.05h-0.13zM-2.21 -0.28h0.23v0.05h-0.23zM-1.94 -0.74h0.16v0.05h-0.16zM-1.97 -0.58h0.2v0.05h-0.2zM-1.95 -0.24h0.19v0.05h-0.19zM-1.72 -0.75h0.24v0.05h-0.24zM-2.46 0.2h0.17v0.05h-0.17zM-2.39 0.45h0.14v0.05h-0.14zM-2.44 0.71h0.13v0.05h-0.13zM-2.44 0.97h0.14v0.05h-0.14zM-2.19 0.24h0.21v0.05h-0.21zM-2.19 0.48h0.2v0.05h-0.2zM-2.2 0.93h0.17v0.05h-0.17zM-1.94 0.46h0.2v0.05h-0.2zM-1.97 0.73h0.24v0.05h-0.24zM-1.67 0.7h0.18v0.05h-0.18zM-2.41 1.43h0.18v0.05h-0.18zM-2.46 1.67h0.22v0.05h-0.22zM-2.46 1.93h0.23v0.05h-0.23zM-2.45 2.11h0.18v0.05h-0.18zM-2.16 1.45h0.15v0.05h-0.15zM-1.91 1.68h0.16v0.05h-0.16zM-1.89 2.12h0.17v0.05h-0.17zM-1.68 1.45h0.2v0.05h-0.2zM-1.68 1.92h0.13v0.05h-0.13zM-1.71 2.15h0.2v0.05h-0.2zM-2.47 2.64h0.21v0.05h-0.21zM-2.47 3.34h0.21v0.05h-0.21zM-2.22 2.66h0.21v0.05h-0.21zM-2.19 2.83h0.12v0.05h-0.12zM-2.14 3.33h0.12v0.05h-0.12zM-1.93 2.58h0.16v0.05h-0.16zM-1.91 2.89h0.17v0.05h-0.17zM-1.94 3.13h0.15v0.05h-0.15zM-1.97 3.37h0.21v0.05h-0.21zM-1.68 2.63h0.15v0.05h-0.15zM-1.71 2.86h0.21v0.05h-0.21zM-1.7 3.14h0.18v0.05h-0.18zM-1.72 3.35h0.21v0.05h-0.21zM-2.47 3.8h0.22v0.05h-0.22zM-2.4 4.33h0.12v0.05h-0.12zM-2.44 4.55h0.18v0.05h-0.18zM-2.17 3.8h0.15v0.05h-0.15zM-2.22 4.08h0.2v0.05h-0.2zM-2.19 4.22h0.15v0.05h-0.15zM-1.93 3.86h0.17v0.05h-0.17zM-1.89 4.07h0.16v0.05h-0.16zM-1.95 4.22h0.22v0.05h-0.22zM-1.94 4.58h0.22v0.05h-0.22zM-1.7 3.84h0.2v0.05h-0.2zM-1.7 4.54h0.2v0.05h-0.2zM-1.21 -3.47h0.12v0.05h-0.12zM-1.21 -3.23h0.21v0.05h-0.21zM-0.97 -3.04h0.19v0.05h-0.19zM-0.96 -2.75h0.23v0.05h-0.23zM-0.67 -3.44h0.16v0.05h-0.16zM-0.62 -3.23h0.14v0.05h-0.14zM-0.69 -3h0.21v0.05h-0.21zM-0.71 -2.74h0.22v0.05h-0.22zM-0.43 -3.52h0.13v0.05h-0.13zM-0.47 -3.28h0.24v0.05h-0.24zM-0.47 -2.74h0.22v0.05h-0.22zM-1.19 -2.29h0.2v0.05h-0.2zM-0.98 -2.28h0.21v0.05h-0.21zM-0.97 -1.79h0.15v0.05h-0.15zM-0.96 -1.51h0.12v0.05h-0.12zM-0.71 -2.24h0.21v0.05h-0.21zM-0.64 -1.75h0.17v0.05h-0.17zM-0.61 -1.48h0.13v0.05h-0.13zM-0.46 -2.31h0.18v0.05h-0.18zM-0.46 -2.02h0.23v0.05h-0.23zM-1.21 -0.74h0.2v0.05h-0.2zM-0.95 -0.98h0.17v0.05h-0.17zM-0.96 -0.75h0.21v0.05h-0.21zM-0.96 -0.49h0.21v0.05h-0.21zM-0.96 -0.31h0.19v0.05h-0.19zM-0.66 -0.74h0.18v0.05h-0.18zM-0.66 -0.27h0.15v0.05h-0.15zM-0.41 -1.02h0.18v0.05h-0.18zM-0.44 -0.78h0.14v0.05h-0.14zM-0.46 -0.55h0.23v0.05h-0.23zM-1.17 0.16h0.18v0.05h-0.18zM-1.19 0.5h0.13v0.05h-0.13zM-1.17 0.72h0.16v0.05h-0.16zM-0.97 0.48h0.23v0.05h-0.23zM-0.97 0.72h0.19v0.05h-0.19zM-0.69 0.18h0.19v0.05h-0.19zM-0.71 0.72h0.2v0.05h-0.2zM-0.67 0.97h0.17v0.05h-0.17zM-0.46 0.24h0.24v0.05h-0.24zM-0.43 0.91h0.16v0.05h-0.16zM-1.21 1.41h0.19v0.05h-0.19zM-1.21 1.62h0.22v0.05h-0.22zM-1.16 1.89h0.17v0.05h-0.17zM-1.21 2.18h0.22v0.05h-0.22zM-0.96 1.45h0.17v0.05h-0.17zM-0.96 1.68h0.13v0.05h-0.13zM-0.64 1.44h0.15v0.05h-0.15zM-0.68 1.87h0.14v0.05h-0.14zM-0.72 2.17h0.23v0.05h-0.23zM-0.46 1.44h0.2v0.05h-0.2zM-0.45 1.89h0.2v0.05h-0.2zM-0.38 2.16h0.15v0.05h-0.15zM-1.12 2.63h0.13v0.05h-0.13zM-1.2 3.13h0.13v0.05h-0.13zM-1.15 3.36h0.16v0.05h-0.16zM-0.97 2.56h0.23v0.05h-0.23zM-0.97 2.9h0.12v0.05h-0.12zM-0.89 3.05h0.15v0.05h-0.15zM-0.89 3.27h0.14v0.05h-0.14zM-0.62 2.61h0.12v0.05h-0.12zM-0.71 3.29h0.23v0.05h-0.23zM-0.46 2.66h0.22v0.05h-0.22zM-0.45 2.86h0.21v0.05h-0.21zM-0.45 3.06h0.21v0.05h-0.21zM-1.11 4.05h0.12v0.05h-0.12zM-1.2 4.33h0.22v0.05h-0.22zM-0.92 3.81h0.19v0.05h-0.19zM-0.94 4.33h0.2v0.05h-0.2zM-0.71 3.83h0.14v0.05h-0.14zM-0.63 4.24h0.16v0.05h-0.16zM-0.68 4.52h0.19v0.05h-0.19zM-0.43 4.04h0.18v0.05h-0.18zM-0.42 4.32h0.2v0.05h-0.2zM0.12 -3.49h0.14v0.05h-0.14zM0.02 -3.24h0.22v0.05h-0.22zM0.08 -2.96h0.18v0.05h-0.18zM0.05 -2.73h0.16v0.05h-0.16zM0.34 -3.46h0.14v0.05h-0.14zM0.35 -2.99h0.15v0.05h-0.15zM0.54 -3.48h0.12v0.05h-0.12zM0.52 -3.22h0.2v0.05h-0.2zM0.54 -2.72h0.13v0.05h-0.13zM0.82 -3.28h0.15v0.05h-0.15zM0.75 -3h0.18v0.05h-0.18zM0.03 -2.25h0.16v0.05h-0.16zM0.09 -1.99h0.16v0.05h-0.16zM0.04 -1.74h0.15v0.05h-0.15zM0.11 -1.49h0.12v0.05h-0.12zM0.27 -2.24h0.23v0.05h-0.23zM0.33 -2.05h0.15v0.05h-0.15zM0.29 -1.56h0.16v0.05h-0.16zM0.52 -2.23h0.13v0.05h-0.13zM0.54 -2.05h0.14v0.05h-0.14zM0.53 -1.73h0.14v0.05h-0.14zM0.75 -2.24h0.22v0.05h-0.22zM0.74 -2.04h0.15v0.05h-0.15zM0.76 -1.75h0.14v0.05h-0.14zM0.82 -1.49h0.15v0.05h-0.15zM0.04 -0.99h0.16v0.05h-0.16zM0.02 -0.79h0.22v0.05h-0.22zM0.07 -0.57h0.16v0.05h-0.16zM0.08 -0.3h0.14v0.05h-0.14zM0.26 -0.98h0.21v0.05h-0.21zM0.52 -1.05h0.13v0.05h-0.13zM0.53 -0.52h0.17v0.05h-0.17zM0.75 -0.79h0.13v0.05h-0.13zM0.76 -0.52h0.21v0.05h-0.21zM0.05 1.42h0.16v0.05h-0.16zM0.04 1.93h0.15v0.05h-0.15zM0.03 2.16h0.21v0.05h-0.21zM0.34 1.39h0.12v0.05h-0.12zM0.32 1.7h0.16v0.05h-0.16zM0.29 1.94h0.16v0.05h-0.16zM0.53 1.43h0.12v0.05h-0.12zM0.52 1.67h0.22v0.05h-0.22zM0.51 1.92h0.2v0.05h-0.2zM0.51 2.14h0.23v0.05h-0.23zM0.77 1.45h0.21v0.05h-0.21zM0.76 1.92h0.11v0.05h-0.11zM0.81 2.13h0.12v0.05h-0.12zM0.04 2.84h0.15v0.05h-0.15zM0.05 3.08h0.16v0.05h-0.16zM0.27 2.59h0.21v0.05h-0.21zM0.32 2.87h0.16v0.05h-0.16zM0.28 3.09h0.17v0.05h-0.17zM0.51 2.63h0.21v0.05h-0.21zM0.51 2.89h0.2v0.05h-0.2zM0.53 3.14h0.17v0.05h-0.17zM0.75 2.9h0.19v0.05h-0.19zM0.77 3.12h0.14v0.05h-0.14zM0.04 4.52h0.13v0.05h-0.13zM0.31 3.81h0.11v0.05h-0.11zM0.53 3.85h0.18v0.05h-0.18zM0.51 4.06h0.19v0.05h-0.19zM0.5 4.32h0.2v0.05h-0.2zM0.54 4.55h0.11v0.05h-0.11zM0.79 3.82h0.18v0.05h-0.18zM0.78 4.08h0.16v0.05h-0.16zM0.8 4.32h0.11v0.05h-0.11zM0.85 4.56h0.13v0.05h-0.13zM1.28 -3.23h0.17v0.05h-0.17zM1.46 -3.54h0.2v0.05h-0.2zM1.55 -3.22h0.12v0.05h-0.12zM1.47 -2.98h0.17v0.05h-0.17zM1.71 -3.45h0.2v0.05h-0.2zM1.75 -3.22h0.17v0.05h-0.17zM1.7 -2.73h0.22v0.05h-0.22zM1.97 -3.25h0.21v0.05h-0.21zM2.03 -2.97h0.15v0.05h-0.15zM1.97 -2.72h0.21v0.05h-0.21zM1.3 -2.29h0.13v0.05h-0.13zM1.22 -1.56h0.18v0.05h-0.18zM1.5 -2.31h0.15v0.05h-0.15zM1.48 -2.02h0.21v0.05h-0.21zM1.49 -1.8h0.19v0.05h-0.19zM1.49 -1.5h0.12v0.05h-0.12zM1.7 -2.28h0.18v0.05h-0.18zM1.74 -2.08h0.19v0.05h-0.19zM1.72 -1.49h0.18v0.05h-0.18zM1.96 -2.29h0.21v0.05h-0.21zM2 -1.75h0.15v0.05h-0.15zM1.96 -1.53h0.13v0.05h-0.13zM1.28 -0.98h0.18v0.05h-0.18zM1.23 -0.79h0.14v0.05h-0.14zM1.24 -0.48h0.2v0.05h-0.2zM1.31 -0.3h0.13v0.05h-0.13zM1.5 -0.99h0.19v0.05h-0.19zM1.46 -0.74h0.12v0.05h-0.12zM1.51 -0.23h0.18v0.05h-0.18zM1.72 -0.55h0.17v0.05h-0.17zM1.7 -0.28h0.23v0.05h-0.23zM1.96 -0.98h0.12v0.05h-0.12zM2 -0.74h0.18v0.05h-0.18zM1.98 -0.25h0.12v0.05h-0.12zM1.26 0.25h0.17v0.05h-0.17zM1.27 0.46h0.14v0.05h-0.14zM1.29 0.74h0.17v0.05h-0.17zM1.24 0.95h0.14v0.05h-0.14zM1.49 0.21h0.15v0.05h-0.15zM1.53 0.46h0.12v0.05h-0.12zM1.48 0.73h0.19v0.05h-0.19zM1.47 0.96h0.15v0.05h-0.15zM1.73 0.22h0.15v0.05h-0.15zM1.75 0.43h0.17v0.05h-0.17zM1.72 0.97h0.2v0.05h-0.2zM1.99 0.24h0.19v0.05h-0.19zM1.27 1.45h0.14v0.05h-0.14zM1.22 1.7h0.22v0.05h-0.22zM1.27 1.93h0.11v0.05h-0.11zM1.54 1.69h0.12v0.05h-0.12zM1.47 1.92h0.2v0.05h-0.2zM1.52 2.14h0.16v0.05h-0.16zM1.72 1.69h0.12v0.05h-0.12zM1.78 2.15h0.15v0.05h-0.15zM2 1.45h0.17v0.05h-0.17zM2.01 1.9h0.13v0.05h-0.13zM1.99 2.11h0.18v0.05h-0.18zM1.23 2.63h0.19v0.05h-0.19zM1.26 3.36h0.15v0.05h-0.15zM1.47 2.6h0.22v0.05h-0.22zM1.53 2.83h0.17v0.05h-0.17zM1.55 3.11h0.15v0.05h-0.15zM1.76 2.62h0.13v0.05h-0.13zM1.95 2.64h0.15v0.05h-0.15zM1.94 2.89h0.21v0.05h-0.21zM1.97 3.06h0.14v0.05h-0.14zM1.23 4.08h0.22v0.05h-0.22zM1.26 4.33h0.17v0.05h-0.17zM1.27 4.56h0.16v0.05h-0.16zM1.54 3.84h0.15v0.05h-0.15zM1.53 4.1h0.12v0.05h-0.12zM1.59 4.32h0.11v0.05h-0.11zM1.48 4.46h0.21v0.05h-0.21zM1.81 3.86h0.13v0.05h-0.13zM1.74 4.05h0.19v0.05h-0.19zM1.72 4.3h0.12v0.05h-0.12zM1.7 4.53h0.22v0.05h-0.22zM1.95 4.56h0.21v0.05h-0.21zM2.43 -2.27h0.23v0.05h-0.23zM2.42 -1.74h0.22v0.05h-0.22zM2.49 -1.49h0.13v0.05h-0.13zM2.67 -1.74h0.23v0.05h-0.23zM2.66 -1.54h0.22v0.05h-0.22zM2.98 -2.26h0.15v0.05h-0.15zM2.91 -1.5h0.2v0.05h-0.2zM3.14 -2.27h0.18v0.05h-0.18zM3.2 -1.98h0.15v0.05h-0.15zM3.18 -1.47h0.14v0.05h-0.14zM2.52 -0.98h0.12v0.05h-0.12zM2.45 -0.78h0.2v0.05h-0.2zM2.44 -0.48h0.22v0.05h-0.22zM2.5 -0.33h0.15v0.05h-0.15zM2.67 -0.81h0.14v0.05h-0.14zM2.73 -0.49h0.13v0.05h-0.13zM2.67 -0.22h0.2v0.05h-0.2zM2.92 -1.03h0.19v0.05h-0.19zM2.95 -0.76h0.17v0.05h-0.17zM3.16 -0.74h0.2v0.05h-0.2zM3.25 -0.5h0.12v0.05h-0.12zM3.15 -0.22h0.21v0.05h-0.21zM2.44 0.2h0.18v0.05h-0.18zM2.44 0.47h0.13v0.05h-0.13zM2.46 0.63h0.12v0.05h-0.12zM2.44 0.93h0.21v0.05h-0.21zM2.69 0.68h0.18v0.05h-0.18zM2.9 0.25h0.21v0.05h-0.21zM2.91 0.44h0.22v0.05h-0.22zM2.94 0.72h0.12v0.05h-0.12zM2.92 0.96h0.2v0.05h-0.2zM3.15 0.46h0.18v0.05h-0.18zM2.43 1.66h0.11v0.05h-0.11zM2.47 1.93h0.14v0.05h-0.14zM2.44 2.17h0.17v0.05h-0.17zM2.68 1.43h0.19v0.05h-0.19zM2.69 1.69h0.2v0.05h-0.2zM2.7 2.17h0.19v0.05h-0.19zM2.92 1.46h0.19v0.05h-0.19zM2.93 1.64h0.13v0.05h-0.13zM2.93 2.17h0.2v0.05h-0.2zM3.2 1.38h0.16v0.05h-0.16zM3.16 1.65h0.18v0.05h-0.18zM3.16 1.93h0.17v0.05h-0.17zM3.16 2.1h0.17v0.05h-0.17zM2.44 2.65h0.22v0.05h-0.22zM2.45 2.81h0.18v0.05h-0.18zM2.48 3.32h0.17v0.05h-0.17zM2.72 2.6h0.17v0.05h-0.17zM2.7 2.84h0.12v0.05h-0.12zM2.66 3.37h0.2v0.05h-0.2zM2.93 2.66h0.2v0.05h-0.2zM2.91 2.79h0.16v0.05h-0.16zM2.99 3.13h0.13v0.05h-0.13zM3.15 2.66h0.11v0.05h-0.11zM3.17 3.33h0.17v0.05h-0.17zM2.44 3.85h0.17v0.05h-0.17zM2.46 3.99h0.18v0.05h-0.18zM2.48 4.32h0.16v0.05h-0.16zM2.67 4.09h0.23v0.05h-0.23zM2.71 4.32h0.13v0.05h-0.13zM2.67 4.49h0.13v0.05h-0.13zM2.93 3.83h0.16v0.05h-0.16zM2.94 4.05h0.18v0.05h-0.18zM2.94 4.34h0.19v0.05h-0.19zM2.99 4.56h0.14v0.05h-0.14zM3.18 3.81h0.19v0.05h-0.19zM3.17 4.08h0.15v0.05h-0.15zM3.24 4.27h0.13v0.05h-0.13zM3.63 -0.99h0.21v0.05h-0.21zM3.66 -0.77h0.18v0.05h-0.18zM3.66 -0.48h0.12v0.05h-0.12zM3.87 -1.01h0.17v0.05h-0.17zM3.9 -0.76h0.14v0.05h-0.14zM3.9 -0.47h0.17v0.05h-0.17zM3.93 -0.33h0.11v0.05h-0.11zM4.13 -1.03h0.15v0.05h-0.15zM4.17 -0.76h0.16v0.05h-0.16zM4.35 -1.11h0.18v0.05h-0.18zM4.45 -0.75h0.11v0.05h-0.11zM4.36 -0.49h0.15v0.05h-0.15zM3.64 0.2h0.2v0.05h-0.2zM3.71 0.49h0.15v0.05h-0.15zM3.88 0.21h0.2v0.05h-0.2zM3.88 0.48h0.14v0.05h-0.14zM3.89 0.74h0.2v0.05h-0.2zM4.11 0.44h0.23v0.05h-0.23zM4.11 0.68h0.22v0.05h-0.22zM4.13 0.95h0.15v0.05h-0.15zM4.37 0.66h0.14v0.05h-0.14zM3.64 1.69h0.16v0.05h-0.16zM3.65 1.9h0.17v0.05h-0.17zM3.67 2.18h0.18v0.05h-0.18zM3.94 1.67h0.11v0.05h-0.11zM3.87 1.9h0.22v0.05h-0.22zM4.17 1.45h0.14v0.05h-0.14zM4.12 2.17h0.17v0.05h-0.17zM4.34 1.45h0.12v0.05h-0.12zM4.38 1.69h0.2v0.05h-0.2zM4.44 1.92h0.13v0.05h-0.13zM4.39 2.18h0.19v0.05h-0.19zM3.63 2.86h0.22v0.05h-0.22zM3.66 3.05h0.18v0.05h-0.18zM3.72 3.27h0.11v0.05h-0.11zM3.89 2.66h0.2v0.05h-0.2zM3.86 2.81h0.2v0.05h-0.2zM3.92 3.12h0.14v0.05h-0.14zM3.89 3.29h0.19v0.05h-0.19zM4.13 2.58h0.12v0.05h-0.12zM4.12 2.88h0.19v0.05h-0.19zM4.12 3.28h0.18v0.05h-0.18zM4.35 2.62h0.15v0.05h-0.15zM4.36 3.35h0.19v0.05h-0.19z"/>
<path fill="#a9a9a9" d="M-3.67 -0.71h0.18v0.21h-0.18zM-3.55 0.57h0.11v0.13h-0.11zM-3.33 0.28h0.11v0.18h-0.11zM-3.19 0.5h0.15v0.17h-0.15zM-2.95 0.27h0.13v0.19h-0.13zM-3.66 1.94h0.16v0.15h-0.16zM-3.42 1.97h0.18v0.18h-0.18zM-3.18 1.7h0.21v0.12h-0.21zM-2.92 2.75h0.19v0.13h-0.19zM-1.91 -2.22h0.12v0.24h-0.12zM-2.46 -0.92h0.2v0.14h-0.2zM-2.14 -0.7h0.13v0.14h-0.13zM-1.95 -0.47h0.19v0.23h-0.19zM-1.94 0.31h0.2v0.15h-0.2zM-2.41 1.26h0.18v0.17h-0.18zM-1.89 1.96h0.17v0.17h-0.17zM-1.68 1.28h0.2v0.16h-0.2zM-1.93 2.43h0.16v0.15h-0.16zM-1.97 3.16h0.21v0.21h-0.21zM-1.71 2.74h0.21v0.12h-0.21zM-2.22 3.88h0.2v0.2h-0.2zM-0.67 -3.67h0.16v0.22h-0.16zM-0.47 -2.95h0.22v0.21h-0.22zM-0.46 -2.43h0.18v0.12h-0.18zM-1.21 -0.88h0.2v0.14h-0.2zM-0.71 0.52h0.2v0.2h-0.2zM-0.96 1.25h0.17v0.2h-0.17zM-1.12 2.44h0.13v0.19h-0.13zM-0.97 2.43h0.23v0.13h-0.23zM-0.43 3.92h0.18v0.12h-0.18zM0.54 -2.94h0.13v0.22h-0.13zM0.75 -0.97h0.13v0.18h-0.13zM0.53 1.31h0.12v0.11h-0.12zM0.52 1.47h0.22v0.21h-0.22zM0.51 2.7h0.2v0.2h-0.2zM1.48 -2.18h0.21v0.17h-0.21zM1.72 -1.71h0.18v0.22h-0.18zM1.51 -0.47h0.18v0.24h-0.18zM1.29 0.55h0.17v0.19h-0.17zM1.75 0.26h0.17v0.17h-0.17zM1.72 0.75h0.2v0.22h-0.2zM1.27 1.22h0.14v0.23h-0.14zM1.27 1.73h0.11v0.2h-0.11zM1.47 1.8h0.2v0.12h-0.2zM1.47 2.44h0.22v0.16h-0.22zM1.76 2.49h0.13v0.13h-0.13zM1.53 3.92h0.12v0.17h-0.12zM1.81 3.64h0.13v0.22h-0.13zM2.49 -1.62h0.13v0.14h-0.13zM3.14 -2.46h0.18v0.19h-0.18zM3.2 -2.19h0.15v0.21h-0.15zM2.95 -0.94h0.17v0.19h-0.17zM2.92 1.27h0.19v0.19h-0.19zM3.16 1.71h0.17v0.23h-0.17zM2.45 2.67h0.18v0.14h-0.18zM2.48 4.16h0.16v0.15h-0.16zM2.94 4.17h0.19v0.17h-0.19zM3.17 3.87h0.15v0.21h-0.15zM4.11 0.26h0.23v0.18h-0.23zM4.13 2.45h0.12v0.13h-0.12z"/>
<path fill="#b2b2b2" d="M-3.67 -0.45h0.21v0.19h-0.21zM-3.4 0.77h0.14v0.18h-0.14zM-2.93 0.06h0.14v0.19h-0.14zM-2.96 0.53h0.22v0.13h-0.22zM-3.67 1.46h0.17v0.22h-0.17zM-3.19 1.47h0.23v0.21h-0.23zM-3.15 1.97h0.14v0.19h-0.14zM-2.95 1.8h0.19v0.13h-0.19zM-3.65 2.43h0.15v0.18h-0.15zM-2.22 -2.42h0.21v0.13h-0.21zM-1.62 -2.4h0.13v0.17h-0.13zM-1.72 -0.98h0.24v0.23h-0.24zM-1.91 2.69h0.17v0.21h-0.17zM-1.68 2.46h0.15v0.17h-0.15zM-2.44 4.35h0.18v0.21h-0.18zM-1.89 3.92h0.16v0.15h-0.16zM-0.98 -2.45h0.21v0.17h-0.21zM-0.97 -1.94h0.15v0.15h-0.15zM-0.96 -1.64h0.12v0.12h-0.12zM-0.71 -2.37h0.21v0.13h-0.21zM-0.96 -0.43h0.19v0.12h-0.19zM-1.17 0.59h0.16v0.13h-0.16zM-0.96 1.48h0.13v0.2h-0.13zM-0.46 1.33h0.2v0.12h-0.2zM-0.62 2.45h0.12v0.16h-0.12zM-0.45 2.92h0.21v0.14h-0.21zM-0.94 4.13h0.2v0.21h-0.2zM-0.71 3.69h0.14v0.14h-0.14zM-0.63 4.1h0.16v0.13h-0.16zM0.35 -3.15h0.15v0.16h-0.15zM0.09 -2.15h0.16v0.16h-0.16zM0.29 -1.68h0.16v0.12h-0.16zM0.04 -1.16h0.16v0.17h-0.16zM0.53 -0.71h0.17v0.18h-0.17zM0.76 -0.67h0.21v0.15h-0.21zM0.75 2.73h0.19v0.17h-0.19zM0.53 3.71h0.18v0.15h-0.18zM0.79 3.7h0.18v0.12h-0.18zM1.28 -3.35h0.17v0.11h-0.17zM1.96 -1.66h0.13v0.12h-0.13zM1.23 -0.97h0.14v0.18h-0.14zM1.24 -0.71h0.2v0.23h-0.2zM1.5 -1.2h0.19v0.21h-0.19zM1.48 0.62h0.19v0.11h-0.19zM1.54 1.49h0.12v0.2h-0.12zM1.97 2.91h0.14v0.14h-0.14zM1.27 4.36h0.16v0.2h-0.16zM1.95 4.43h0.21v0.13h-0.21zM2.73 -0.62h0.13v0.13h-0.13zM2.44 0.36h0.13v0.11h-0.13zM2.69 0.52h0.18v0.16h-0.18zM2.94 0.53h0.12v0.19h-0.12zM3.15 0.3h0.18v0.16h-0.18zM2.48 3.21h0.17v0.11h-0.17zM2.66 3.15h0.2v0.22h-0.2zM3.15 2.54h0.11v0.11h-0.11zM2.94 3.94h0.18v0.12h-0.18zM2.99 4.37h0.14v0.19h-0.14zM3.87 -1.18h0.17v0.18h-0.17zM3.64 1.52h0.16v0.17h-0.16zM3.65 1.74h0.17v0.16h-0.17zM3.87 1.72h0.22v0.17h-0.22zM4.12 2.7h0.19v0.18h-0.19z"/>
<path fill="#bdbdbd" d="M-3.44 -1.17h0.18v0.13h-0.18zM-3.2 -0.72h0.22v0.22h-0.22zM-3.65 1.71h0.19v0.19h-0.19zM-3.4 1.71h0.19v0.22h-0.19zM-3.37 2.67h0.11v0.19h-0.11zM-3.18 2.44h0.19v0.13h-0.19zM-2.42 -1.97h0.18v0.12h-0.18zM-1.96 -2.44h0.18v0.19h-0.18zM-1.72 -2.21h0.13v0.17h-0.13zM-2.44 -0.68h0.19v0.2h-0.19zM-2.21 -0.46h0.23v0.18h-0.23zM-1.97 -0.71h0.2v0.14h-0.2zM-2.46 0.05h0.17v0.15h-0.17zM-2.2 0.82h0.17v0.11h-0.17zM-1.97 0.54h0.24v0.19h-0.24zM-2.46 1.55h0.22v0.12h-0.22zM-2.46 1.77h0.23v0.15h-0.23zM-2.16 1.24h0.15v0.22h-0.15zM-2.19 2.71h0.12v0.12h-0.12zM-1.94 4.37h0.22v0.21h-0.22zM-0.41 -1.22h0.18v0.2h-0.18zM-0.97 0.52h0.19v0.2h-0.19zM-0.43 0.74h0.16v0.17h-0.16zM-0.45 1.72h0.2v0.18h-0.2zM-0.97 2.68h0.12v0.22h-0.12zM-1.11 3.89h0.12v0.16h-0.12zM-1.2 4.16h0.22v0.17h-0.22zM-0.68 4.4h0.19v0.12h-0.19zM0.02 -3.38h0.22v0.13h-0.22zM0.54 -3.67h0.12v0.19h-0.12zM0.82 -3.4h0.15v0.12h-0.15zM0.11 -1.71h0.12v0.22h-0.12zM0.82 -1.67h0.15v0.19h-0.15zM0.05 2.97h0.16v0.11h-0.16zM0.32 2.67h0.16v0.21h-0.16zM0.53 2.93h0.17v0.21h-0.17zM0.78 3.87h0.16v0.21h-0.16zM0.8 4.13h0.11v0.18h-0.11zM1.71 -3.62h0.2v0.17h-0.2zM2 -1.96h0.15v0.2h-0.15zM1.46 -0.91h0.12v0.17h-0.12zM2 -0.97h0.18v0.22h-0.18zM1.98 -0.46h0.12v0.21h-0.12zM1.26 0.04h0.17v0.22h-0.17zM1.73 0.04h0.15v0.18h-0.15zM1.23 2.5h0.19v0.14h-0.19zM1.48 4.35h0.21v0.12h-0.21zM1.72 4.18h0.12v0.12h-0.12zM2.42 -1.86h0.22v0.12h-0.22zM2.44 -0.61h0.22v0.12h-0.22zM3.15 -0.4h0.21v0.17h-0.21zM2.46 0.52h0.12v0.11h-0.12zM2.47 1.71h0.14v0.22h-0.14zM2.93 1.94h0.2v0.23h-0.2zM3.16 1.49h0.18v0.17h-0.18zM2.91 2.68h0.16v0.11h-0.16zM2.46 3.88h0.18v0.11h-0.18zM3.66 -0.7h0.12v0.21h-0.12zM3.9 -0.97h0.14v0.22h-0.14zM4.13 -1.17h0.15v0.15h-0.15zM4.35 -1.23h0.18v0.12h-0.18zM3.88 0.32h0.14v0.15h-0.14zM3.89 0.54h0.2v0.2h-0.2zM4.38 1.53h0.2v0.16h-0.2zM4.39 1.97h0.19v0.21h-0.19zM3.86 2.66h0.2v0.15h-0.2zM4.36 3.17h0.19v0.18h-0.19z"/>
<path fill="#dcdcdc" d="M-3.4 -0.44h0.18v0.18h-0.18zM-3.19 -0.97h0.11v0.18h-0.11zM-3.2 -0.42h0.23v0.16h-0.23zM-3.59 0.26h0.15v0.16h-0.15zM-3.43 2.47h0.21v0.18h-0.21zM-2.22 -2.22h0.18v0.23h-0.18zM-2.19 -1.87h0.18v0.13h-0.18zM-2.44 0.79h0.14v0.18h-0.14zM-1.67 0.5h0.18v0.2h-0.18zM-2.45 1.97h0.18v0.14h-0.18zM-1.72 3.2h0.21v0.15h-0.21zM-2.17 3.69h0.15v0.11h-0.15zM-1.7 4.39h0.2v0.15h-0.2zM-0.96 -2.93h0.23v0.18h-0.23zM-1.19 -2.41h0.2v0.12h-0.2zM-0.67 0.78h0.17v0.18h-0.17zM-1.21 1.25h0.19v0.16h-0.19zM-0.72 1.94h0.23v0.23h-0.23zM-1.2 2.94h0.13v0.19h-0.13zM-0.89 2.91h0.15v0.14h-0.15zM-0.71 3.14h0.23v0.15h-0.23zM-0.45 2.74h0.21v0.12h-0.21zM-0.42 4.13h0.2v0.19h-0.2zM0.03 -2.43h0.16v0.18h-0.16zM0.33 -2.18h0.15v0.13h-0.15zM0.75 -2.39h0.22v0.15h-0.22zM0.02 -0.91h0.22v0.12h-0.22zM0.07 -0.69h0.16v0.12h-0.16zM0.03 1.99h0.21v0.18h-0.21zM0.32 1.51h0.16v0.19h-0.16zM0.76 1.74h0.11v0.18h-0.11zM0.28 2.9h0.17v0.19h-0.17zM0.51 2.52h0.21v0.12h-0.21zM1.46 -3.67h0.2v0.13h-0.2zM1.5 -2.47h0.15v0.15h-0.15zM1.49 -1.94h0.19v0.14h-0.19zM1.7 -2.45h0.18v0.17h-0.18zM1.49 0.03h0.15v0.19h-0.15zM1.55 2.99h0.15v0.13h-0.15zM1.95 2.49h0.15v0.15h-0.15zM1.26 4.13h0.17v0.2h-0.17zM2.91 -1.66h0.2v0.16h-0.2zM2.45 -0.94h0.2v0.16h-0.2zM2.92 -1.16h0.19v0.13h-0.19zM2.9 0.03h0.21v0.21h-0.21zM2.93 1.5h0.13v0.14h-0.13zM3.2 1.22h0.16v0.16h-0.16zM3.16 1.96h0.17v0.15h-0.17zM2.44 2.5h0.22v0.15h-0.22zM2.93 2.48h0.2v0.17h-0.2zM3.67 1.95h0.18v0.23h-0.18zM3.89 2.45h0.2v0.21h-0.2z"/>
<path fill="#cfcfcf" d="M-2.92 -1.1h0.15v0.12h-0.15zM-3.63 0.03h0.13v0.18h-0.13zM-3.68 2.78h0.22v0.11h-0.22zM-3.38 2.93h0.16v0.13h-0.16zM-3.18 2.76h0.17v0.11h-0.17zM-2.15 -1.72h0.16v0.22h-0.16zM-2.19 0.28h0.2v0.2h-0.2zM-2.47 2.43h0.21v0.21h-0.21zM-2.19 4.1h0.15v0.12h-0.15zM-1.7 3.64h0.2v0.2h-0.2zM-1.21 -3.62h0.12v0.15h-0.12zM-0.97 -3.17h0.19v0.13h-0.19zM-0.43 -3.65h0.13v0.13h-0.13zM-0.47 -3.42h0.24v0.14h-0.24zM-0.95 -1.2h0.17v0.21h-0.17zM-0.66 -0.95h0.18v0.21h-0.18zM-0.46 -0.71h0.23v0.16h-0.23zM-0.89 3.14h0.14v0.13h-0.14zM-0.46 2.47h0.22v0.19h-0.22zM-0.92 3.64h0.19v0.17h-0.19zM0.08 -3.18h0.18v0.22h-0.18zM0.75 -3.16h0.18v0.17h-0.18zM0.54 -2.17h0.14v0.13h-0.14zM0.52 -1.21h0.13v0.16h-0.13zM0.34 1.24h0.12v0.15h-0.12zM0.29 1.75h0.16v0.18h-0.16zM0.51 1.99h0.23v0.15h-0.23zM0.81 2h0.12v0.13h-0.12zM0.04 4.37h0.13v0.15h-0.13zM1.3 -2.42h0.13v0.13h-0.13zM1.31 -0.47h0.13v0.16h-0.13zM1.7 -0.47h0.23v0.19h-0.23zM1.96 -1.2h0.12v0.22h-0.12zM1.26 3.17h0.15v0.19h-0.15zM1.53 2.7h0.17v0.13h-0.17zM1.94 2.67h0.21v0.23h-0.21zM1.23 3.95h0.22v0.13h-0.22zM2.43 -2.46h0.23v0.19h-0.23zM2.67 -0.45h0.2v0.23h-0.2zM2.68 1.23h0.19v0.19h-0.19zM2.69 1.5h0.2v0.19h-0.2zM3.17 3.22h0.17v0.11h-0.17zM3.66 -0.92h0.18v0.15h-0.18zM4.11 0.5h0.22v0.18h-0.22zM4.37 0.55h0.14v0.11h-0.14zM3.63 2.68h0.22v0.18h-0.22zM3.92 2.91h0.14v0.21h-0.14zM4.35 2.47h0.15v0.15h-0.15z"/>
<path fill="#8e8e8e" d="M-3.4 1.23h0.2v0.15h-0.2zM-3.42 1.49h0.22v0.2h-0.22zM-3.67 3.16h0.22v0.21h-0.22zM-3.44 3.2h0.23v0.12h-0.23zM-2.94 2.43h0.18v0.22h-0.18zM-2.95 3.15h0.23v0.23h-0.23zM-2.2 -1.22h0.22v0.19h-0.22zM-1.94 -0.95h0.16v0.22h-0.16zM-2.19 0.04h0.21v0.2h-0.21zM-1.91 1.46h0.16v0.22h-0.16zM-1.68 1.7h0.13v0.21h-0.13zM-2.14 3.21h0.12v0.12h-0.12zM-1.94 2.92h0.15v0.21h-0.15zM-2.4 4.14h0.12v0.19h-0.12zM-1.93 3.66h0.17v0.19h-0.17zM-1.95 4.11h0.22v0.12h-0.22zM-1.21 -3.34h0.21v0.11h-0.21zM-0.61 -1.68h0.13v0.19h-0.13zM-0.44 -0.9h0.14v0.12h-0.14zM-1.17 0.04h0.18v0.12h-0.18zM-0.69 0.05h0.19v0.13h-0.19zM-1.21 1.95h0.22v0.23h-0.22zM-0.68 1.73h0.14v0.14h-0.14zM0.12 -3.65h0.14v0.16h-0.14zM0.04 -1.97h0.15v0.22h-0.15zM0.52 -2.46h0.13v0.23h-0.13zM0.74 -2.19h0.15v0.15h-0.15zM0.76 -1.95h0.14v0.2h-0.14zM0.26 -1.2h0.21v0.21h-0.21zM0.77 2.9h0.14v0.22h-0.14zM0.51 3.93h0.19v0.13h-0.19zM0.85 4.4h0.13v0.16h-0.13zM1.55 -3.43h0.12v0.21h-0.12zM1.75 -3.44h0.17v0.22h-0.17zM1.47 0.78h0.15v0.18h-0.15zM1.99 0.12h0.19v0.12h-0.19zM2 1.27h0.17v0.17h-0.17zM1.54 3.64h0.15v0.2h-0.15zM1.59 4.1h0.11v0.22h-0.11zM1.7 4.36h0.22v0.18h-0.22zM2.67 -1.96h0.23v0.22h-0.23zM2.66 -1.68h0.22v0.14h-0.22zM3.18 -1.61h0.14v0.14h-0.14zM2.67 -0.96h0.14v0.15h-0.14zM3.16 -0.97h0.2v0.23h-0.2zM3.25 -0.68h0.12v0.17h-0.12zM2.44 0.76h0.21v0.18h-0.21zM2.91 0.3h0.22v0.15h-0.22zM2.44 2h0.17v0.17h-0.17zM2.7 2.06h0.19v0.11h-0.19zM2.99 2.91h0.13v0.22h-0.13zM2.67 3.88h0.23v0.21h-0.23zM3.18 3.68h0.19v0.14h-0.19zM3.63 -1.21h0.21v0.22h-0.21zM3.9 -0.71h0.17v0.24h-0.17zM3.93 -0.45h0.11v0.11h-0.11zM4.45 -0.97h0.11v0.22h-0.11zM4.36 -0.71h0.15v0.22h-0.15zM3.88 0.05h0.2v0.16h-0.2zM4.13 0.78h0.15v0.16h-0.15zM4.12 2h0.17v0.17h-0.17zM4.12 3.15h0.18v0.12h-0.18z"/>
<path fill="#c6c6c6" d="M-3.2 2.92h0.2v0.22h-0.2zM-2.47 -2.2h0.12v0.18h-0.12zM-1.95 -1.92h0.2v0.12h-0.2zM-2.44 0.5h0.13v0.2h-0.13zM-1.71 1.99h0.2v0.16h-0.2zM-0.62 -3.34h0.14v0.11h-0.14zM-0.71 -2.95h0.22v0.22h-0.22zM-0.46 -2.21h0.23v0.18h-0.23zM-0.96 -0.97h0.21v0.22h-0.21zM-0.97 0.3h0.23v0.19h-0.23zM-0.46 0.03h0.24v0.21h-0.24zM-1.21 1.48h0.22v0.14h-0.22zM-1.16 1.77h0.17v0.12h-0.17zM-0.64 1.32h0.15v0.12h-0.15zM-0.38 1.95h0.15v0.21h-0.15zM0.34 -3.66h0.14v0.2h-0.14zM0.53 -1.95h0.14v0.22h-0.14zM0.05 1.25h0.16v0.17h-0.16zM0.51 1.71h0.2v0.21h-0.2zM0.77 1.28h0.21v0.17h-0.21zM0.5 4.15h0.2v0.17h-0.2zM0.54 4.37h0.11v0.18h-0.11zM1.7 -2.95h0.22v0.22h-0.22zM2.03 -3.19h0.15v0.22h-0.15zM1.28 -1.21h0.18v0.24h-0.18zM1.72 -0.7h0.17v0.15h-0.17zM1.27 0.33h0.14v0.13h-0.14zM1.24 0.76h0.14v0.2h-0.14zM1.72 1.47h0.12v0.22h-0.12zM1.78 1.97h0.15v0.19h-0.15zM2.01 1.75h0.13v0.15h-0.13zM1.99 1.95h0.18v0.16h-0.18zM2.52 -1.1h0.12v0.12h-0.12zM2.44 0.02h0.18v0.17h-0.18zM2.92 0.78h0.2v0.19h-0.2zM2.43 1.52h0.11v0.14h-0.11zM2.72 2.46h0.17v0.14h-0.17zM2.7 2.73h0.12v0.11h-0.12zM2.71 4.11h0.13v0.21h-0.13zM2.93 3.67h0.16v0.16h-0.16zM3.24 4.12h0.13v0.16h-0.13zM3.71 0.3h0.15v0.19h-0.15zM4.34 1.22h0.12v0.23h-0.12z"/>
</g></g>
<g transform="matrix(14.5,-5,11.2,11.7,-15.8,-7)">
<path d="M-0.1 -0.95 L1.0 -0.95 L1.0 -0.25 L0.55 -0.25 L0.55 -0.6 L-0.1 -0.6 Z" fill="#9cc0e8" stroke="#5a82c0" stroke-width="0.04"/>
<path d="M-1.25 -0.35 L0.15 -0.35 L0.15 -0.12 L-1.25 -0.12 Z" fill="#3f66c0"/>
<path d="M-1.2 -0.8 L-0.7 -0.8 L-0.7 -0.55 L-1.2 -0.55 Z" fill="#8fb4e0"/><path d="M-0.55 -0.7 L0.0 -0.7 L0.0 -0.45 L-0.55 -0.45 Z" fill="#86acd8"/>
<path d="M-0.9 -1.25 L-0.45 -1.25 L-0.45 -1.05 L-0.9 -1.05 Z" fill="#a6c6ea"/>
</g>
</g>
</defs>
<!-- headings -->
<text x="123" y="253.8" text-anchor="middle" font-size="10.3" font-weight="bold" fill="#111">1/8 mile</text>
<text x="123" y="261.3" text-anchor="middle" font-size="5.8" fill="#222">Circulation</text>
<text x="283.5" y="253.8" text-anchor="middle" font-size="10.3" font-weight="bold" fill="#111">1/4 mile</text>
<text x="283" y="261.3" text-anchor="middle" font-size="5.6" fill="#222">Land use &amp; Cultural hot spots</text>
<text transform="translate(37,311) rotate(-90)" text-anchor="middle" font-size="6.3" font-weight="bold" fill="#222">Existing</text>
<text transform="translate(36.3,426.5) rotate(-90)" text-anchor="middle" font-size="6.3" font-weight="bold" fill="#222">Proposed</text>

<!-- Existing circulation -->
<g transform="translate(125.7,303.2)">
  <use href="#circbase"/>
  <!-- yellow site -->
  <path d="M-16.3 -7.5 L-2.3 -12.3 L11.3 0.2 L-4.4 5.4 Z" fill="#d6d83c" stroke="#2b2b86" stroke-width="0.9"/>
  <!-- dark pedestrian blobs -->
  <path d="M8 -15 q3 -1 3.5 2 q2.5 2 2.5 5 q-2 2 -4 -1 q-3 -3 -2 -6z" fill="#232358"/>
  <path d="M-22 -6 q2 -1 3 1.5 q1.5 2 1 4 q-3 1 -3.5 -2z" fill="#232358"/>
  <rect x="22" y="-2" width="6" height="2" fill="#2a2a60" transform="rotate(-18 25 -1)"/>
  <path d="M3 7 l5 -1.8 l-2 3.8z" fill="#1a1a3a"/>
  <!-- teal line -->
  <path d="M-21.7 -31.8 L48.3 26.3" stroke="#76c4ac" stroke-width="1.3" fill="none"/>
  <path d="M46 27 l4.5 1.5 l-1.8 -4.2z" fill="#76c4ac"/>
  <!-- red arrow -->
  <path d="M-62 26.6 L53 -11.7" stroke="#e0656c" stroke-width="1.9" fill="none"/>
  <path d="M-66.5 28 l6 -4.6 l1.8 5.4z M57.3 -13.2 l-6 4.6 l-1.8 -5.4z" fill="#e0656c"/>
  <!-- bus posts -->
  <path d="M28.1 -6 L30.2 -20.5 M41.8 -7.5 L43.6 -22" stroke="#66d2dc" stroke-width="1.2" fill="none"/>
  <path d="M23 -22 L29 -12 M31.5 -24.5 L36 -17" stroke="#555" stroke-width="0.4" fill="none"/>
</g>

<!-- Proposed circulation -->
<g transform="translate(122,418.2)">
  <use href="#circbase"/>
  <!-- green site -->
  <path d="M-16 -7.2 L-0.8 -12.2 L11.7 -1.4 L-4.2 5 Z" fill="#7adb8c" stroke="#3030a0" stroke-width="1"/>
  <path d="M-16 -7.2 L11.7 -1.4 M-0.8 -12.2 L-4.2 5 M-8.4 -9.7 L3.7 1.8" stroke="#7a48b0" stroke-width="0.5" fill="none"/>
  <path d="M-22 -3.5 L-10 -7.5 L-6 1 L-4.2 5 L-16 -7.2" fill="none" stroke="#2a3ea8" stroke-width="1.2"/>
  <!-- teal lines -->
  <path d="M-68.7 5.7 L33.5 -23.2" stroke="#6fbfa6" stroke-width="1.2" fill="none"/>
  <path d="M-21.8 -31.8 L47.7 26.3" stroke="#6fbfa6" stroke-width="1.2" fill="none"/>
  <path d="M-23.8 -33.6 l4.4 1.2 l-1.8 2.8z M49.9 28.2 l-4.4 -1.2 l1.8 -2.8z" fill="#6fbfa6"/>
  <path d="M-14 -17 L20 11" stroke="#6fbfa6" stroke-width="0.9" fill="none"/>
  <path d="M14 -12.5 L52 -24" stroke="#6fbfa6" stroke-width="0.9" fill="none"/>
  <!-- red arrow (thin with teal overlay) -->
  <path d="M-62 27.5 L53.5 -12" stroke="#7db8a0" stroke-width="1.1" fill="none"/>
  <path d="M-62 27.5 L-52 24 M44 -8.7 L53.5 -12" stroke="#e0656c" stroke-width="1.1" fill="none"/>
  <path d="M-66.3 29 l5.2 -4 l1.6 4.6z M57.8 -13.5 l-5.2 4 l-1.6 -4.6z" fill="#e0656c"/>
  <!-- bus post -->
  <path d="M9.5 1.5 L9.5 -16.5 M12 1 L12 -16" stroke="#70d4de" stroke-width="1.1" fill="none"/>
</g>

<!-- legend circulation -->
<g class="lg">
<text x="56" y="361.8">School</text><circle cx="77" cy="359.6" r="2.8" fill="#9cc4e8"/>
<text x="92" y="361.8">Water Circ.</text><circle cx="123.2" cy="359.8" r="2.8" fill="#2748a8"/>
<text x="132.5" y="361.8">Pedestrian Circ.</text><circle cx="174.6" cy="359.8" r="2.8" fill="#6a2fa0"/>
<text x="56" y="374.4">Bus stops</text><circle cx="82.2" cy="372.6" r="2.8" fill="#62d4dc"/>
<text x="91" y="374.4">Bicycle Circ.</text><circle cx="123.4" cy="372.4" r="2.8" fill="#86d4b4"/>
<text x="131" y="374.4">Vehicle Circ.</text><circle cx="163.6" cy="372.4" r="2.8" fill="#d45863"/>
<text x="220" y="361.8">School  Zone</text><circle cx="254.3" cy="359.6" r="2.9" fill="#8fb8e2"/>
<text x="270.8" y="361.8">Residential</text><circle cx="300.5" cy="359.6" r="2.9" fill="#a49b84"/>
<text x="310.7" y="361.8">Commercial</text><circle cx="342.2" cy="359.6" r="2.9" fill="#c4dccc"/>
<text x="220" y="374">Cultural Hubs</text><circle cx="255.8" cy="372" r="2.9" fill="#7464c4"/>
<text x="273" y="374">Religious</text><circle cx="297.7" cy="372" r="2.9" fill="#d070c4"/>
</g>

<!-- Existing land use -->
<g transform="translate(287.5,304.5)">
  <!-- pale green blob -->
  <path d="M-63.5 -6 C-62 -18 -45 -27 -25 -29.5 C0 -32 30 -30 44 -20 C48 -19 52 -22 57 -19 C62 -17 60 -12 63 -8 C65 -2 58 2 56 6 C54 14 48 22 38 28 C22 37 -10 40 -30 37 C-50 33 -64 14 -63.5 -6 Z" fill="#c5ddd1"/>
  <!-- white floor lower right -->
  <path d="M-13.8 29 L-1.3 27.2 L20 19.2 L23.6 17.4 L37.8 12.1 L52 6 C50 18 38 25 20 28.5 C8 31 -5 31.5 -13.8 30 Z" fill="#fafafa"/><ellipse cx="27" cy="13.5" rx="8.5" ry="4.5" fill="#c5ddd1"/>
  <!-- brown regions -->
  <g fill="#b2a996">
    <path d="M-30 -25.5 L2 -29 L27 -24.5 L45 -16.5 L41 -11 L24 -7.5 L13 -5.7 L6 -10 L-1.5 -20 L-19 -19 Z"/>
    <path d="M16.5 -1.5 L52 -9.5 L62.5 -0.5 L52 8.5 L38 12 L20 6.5 Z"/>
    <path d="M-10 10.3 L2 5 L16.5 12 L20 19 L-1.5 27.2 L-15.5 25.5 L-14 15.5 Z"/>
    <path d="M-21 -2 L-10.5 -4 L-9 3 L-19 5 Z"/>
  </g>
  <!-- blue school zone -->
  <path d="M-37.8 -12.8 L-5 -20.8 L5.8 -12 L-28 -1.2 Z" fill="#9fbcdc"/>
  <path d="M-30 -11 L-6 -17 L1 -11.5 L-24 -4.5 Z" fill="#88a8cc" opacity="0.7"/>
  <!-- yellow -->
  <path d="M-7.5 -5.7 L0.5 -7.5 L5.8 -3 L-3 -0.5 Z" fill="#dcd84a"/>
  <!-- pink & purple spots -->
  <g fill="#cf6cc4"><rect x="-31" y="-22" width="3" height="4"/><rect x="1" y="7" width="5" height="3.5" transform="rotate(35 3 9)"/><rect x="27" y="-18" width="2.5" height="4"/><rect x="41" y="-7" width="2.5" height="3"/></g>
  <g fill="#6a5cc0"><rect x="-46" y="-17" width="4" height="3"/><rect x="20" y="-9" width="2.5" height="1.5"/><rect x="52" y="-19" width="2" height="1.5"/></g>
  <!-- dark inner wall + pink ring -->
  <path d="M-46 15.5 A54 30.5 0 0 0 53.3 4.5" fill="none" stroke="#858585" stroke-width="2.2"/>
  <path d="M-55 0 L-55 5 A55 31.5 0 0 0 55 5 L55 0 A55 31.5 0 0 1 -55 0Z" fill="#dba8de"/>
  <ellipse cx="0" cy="0" rx="55" ry="31.5" fill="none" stroke="#e2b4e4" stroke-width="2"/>
  <!-- purple arrow -->
  <path d="M-62.7 -12.8 L-24.5 43.2" stroke="#7b72ca" stroke-width="2.4" fill="none"/>
  <path d="M-64.6 -15.5 l4.4 2 l-3.4 2.3z M-22.6 46 l-4.4 -2 l3.4 -2.3z" fill="#7b72ca"/>
</g>

<!-- Proposed land use -->
<g transform="translate(285.7,419)">
  <path d="M-63.5 -6 C-62 -18 -45 -25 -25 -26.5 C0 -32 30 -30 42 -20 C46 -19 50 -22 55 -19 C60 -17 58 -12 61 -8 C63 -2 58 2 56 6 C54 14 48 22 38 28 C22 37 -10 40 -30 37 C-50 33 -64 14 -63.5 -6 Z" fill="#c5ddd1"/>
  <path d="M-13.8 29 L-1.3 27.2 L20 19.2 L23.6 17.4 L37.8 12.1 L52 6 C50 18 38 25 20 28.5 C8 31 -5 31.5 -13.8 30 Z" fill="#fafafa"/><ellipse cx="27" cy="13.5" rx="8.5" ry="4.5" fill="#c5ddd1"/>
  <g fill="#b2a996">
    <path d="M-1.3 -27.4 L23.6 -25.7 L45 -16.8 L43.2 -12.3 L21.8 -7 L14.7 -5.2 L7.6 -16 Z"/>
    <path d="M18.3 0 L52 -9 L62.7 -1 L53.8 8 L39.6 12.6 L21.8 8 Z"/>
    <path d="M-9.3 11.7 L4 6.4 L18.3 12.6 L21.8 19.7 L0.3 28.6 L-15.7 26 L-12 17 Z"/>
  </g>
  <!-- blue zone -->
  <path d="M-49.4 -16.8 L-1.3 -27.4 L4 -21.2 L12.9 -5.2 L-17.3 5.5 L-32.5 12.6 Z" fill="#93b2da"/>
  <path d="M-14 -24.6 L-1.3 -27.4 L4 -21.2 L12.9 -5.2 L3 -2 L-6 -14 Z" fill="#8494aa"/>
  <path d="M-28 -9 L-6 -14 L2 -3 L-12 3 L-20 -3 Z" fill="#8a9cb8" opacity="0.8"/>
  <path d="M-8.7 -5.2 L4.3 -8 L6 -2 L-5 1 Z" fill="#5fd494"/>
  <g fill="#cf6cc4"><rect x="-33" y="-24" width="3" height="4.5"/><rect x="2" y="7" width="5" height="3.5" transform="rotate(35 4 9)"/><rect x="25" y="-18" width="2.5" height="4"/><rect x="39" y="-7" width="2.5" height="3"/><rect x="-19" y="-22" width="3" height="2"/></g>
  <g fill="#6a5cc0"><rect x="-47" y="-19" width="4" height="3.5"/><rect x="18" y="-9" width="2.5" height="1.5"/><rect x="50" y="-19" width="2" height="1.5"/><rect x="-3" y="-8" width="3" height="2"/></g>
  <path d="M-46 15.5 A54 30.5 0 0 0 53.3 4.5" fill="none" stroke="#858585" stroke-width="2.2"/>
  <path d="M-54 0 L-54 5 A54 31.5 0 0 0 54 5 L54 0 A54 31.5 0 0 1 -54 0Z" fill="#dba8de"/>
  <ellipse cx="0" cy="0" rx="54" ry="31.5" fill="none" stroke="#e2b4e4" stroke-width="2"/>
  <path d="M-62.7 -12.3 L-23.7 43.7" stroke="#7b72ca" stroke-width="2.4" fill="none"/>
  <path d="M-64.6 -15 l4.4 2 l-3.4 2.3z M-21.8 46.5 l-4.4 -2 l3.4 -2.3z" fill="#7b72ca"/>
</g>
</g>


<!-- ============ SECTION C: Design Theory ============ -->
<g id="secC">
  <text x="553" y="28.6" text-anchor="middle" font-size="14.2" class="t" id="tDT">Design Theory</text>
  <!-- link lines between stacks -->
  <g stroke="#777" stroke-width="0.45" fill="none">
    <path d="M527 101.5 L561.4 76"/>
    <path d="M534 124.5 L561.4 102.5"/>
    <path d="M541 142.5 L560.6 131"/>
    <path d="M540 171.5 L560.6 159.5"/>
    <path d="M538 198 L552 190.5"/>
  </g>
  <!-- LEFT STACK -->
  <!-- layer5 empty -->
  <path d="M485 203 L518 188.5 L543.7 198.3 L511 217.5 Z" fill="#fff" stroke="#666" stroke-width="0.5"/>
  <path d="M485 203 L511 217.5 L543.7 198.3 L543.7 199.9 L511 219.3 L485 204.6Z" fill="#f4f4f4" stroke="#666" stroke-width="0.4"/>
  <!-- layer4 -->
  <path d="M485 175 L517 158.5 L543.6 171 L510 192 Z" fill="#fff" stroke="#666" stroke-width="0.5"/>
  <path d="M485 175 L510 192 L543.6 171 L543.6 172.8 L510 194 L485 176.8Z" fill="#f0f0f0" stroke="#666" stroke-width="0.4"/>
  <g stroke="#555" stroke-width="0.5" fill="none">
    <path d="M499 172 l3 -2.5 l0.5 3 l3 -0.5 l-2 2.5 l2.5 1.5 l-3.5 0.5 l0 3 l-2.5 -2 l-2.5 1.5 l1 -3 l-3 -1z"/>
    <path d="M514 171 l8 -5 M515.5 173 l8 -5 M517 175 l6 -4 M516 180 l2 -3 M519 181 l2 -3 M522 182 l2 -3"/>
  </g>
  <!-- layer3 fence box -->
  <path d="M484.7 141 L484.7 148.5 L510 164.4 L543.3 145 L543.3 138 Z" fill="#e9e9e9" stroke="#555" stroke-width="0.5"/>
  <path d="M484.7 141 L515 126.8 L543.3 138 L510 156.9 Z" fill="#f7f7f7" stroke="#555" stroke-width="0.5"/>
  <path d="M489 142.5 L515.5 130 L539 139 L510 154 Z" fill="#fcfcfc" stroke="#888" stroke-width="0.35"/>
  <g stroke="#666" stroke-width="0.4" fill="none"><path d="M510 156.9 L510 164.4 M491 145 L491 152.5 M497.5 149 L497.5 156.5 M503.5 153 L503.5 160.5 M518.5 152 L518.5 159.5 M527 147.3 L527 154.7 M535.5 142.5 L535.5 150 M484.7 145 L510 161 L543.3 141.8"/></g>
  <!-- layer2 -->
  <path d="M485 120 L517.7 101.7 L543.6 115.9 L511 134.3 Z" fill="#fff" stroke="#666" stroke-width="0.5"/>
  <path d="M485 120 L511 134.3 L543.6 115.9 L543.6 117.5 L511 136.3 L485 122Z" fill="#f0f0f0" stroke="#666" stroke-width="0.4"/>
  <g fill="#555" stroke="#444" stroke-width="0.3">
    <ellipse cx="513.5" cy="117" rx="3.6" ry="3"/><ellipse cx="516.5" cy="126.5" rx="3.2" ry="2.2" fill="#777"/>
    <path d="M498 124.5 l1 -7 l1.6 0 l1 7z" fill="#ddd"/><path d="M503 113 l1.5 2 l2 -1 l-1 2.2 l2 1 l-2.6 0.3 l-0.4 2.3 l-1.5 -2 l-2 0.6 l1 -2 l-1.6 -1.5z" fill="#666"/>
    <circle cx="522" cy="112" r="1"/><circle cx="524.5" cy="116" r="1.1"/><circle cx="529" cy="118.5" r="1.3"/><path d="M531 113 l3 -3" fill="none" stroke-width="0.7"/><path d="M504 130 l2 -5" fill="none" stroke-width="0.6"/>
  </g>
  <!-- layer1 skate park -->
  <path d="M475.5 86 L511 106.8 L511 110.2 L475.5 89.7 Z" fill="#f2a9ac" stroke="#c98088" stroke-width="0.35"/>
  <path d="M511 106.8 L552 82.6 L552 86 L511 110.2 Z" fill="#fff" stroke="#777" stroke-width="0.4"/>
  <path d="M475.5 86 L517 67.5 L552 82.6 L511 106.8 Z" fill="#fff" stroke="#777" stroke-width="0.45"/>
  <path d="M480.5 80.5 L480.5 86.5 L496 95 L504 92 L504 89.5 L490 86 L484 79 Z" fill="#f8ccd2" stroke="#d88a98" stroke-width="0.35"/>
  <path d="M480.5 86.5 L496 95 L496 90 L480.5 80.5Z" fill="#f4b4bc"/>
  <path d="M509 69.5 L514 61.5 L519 60.5 L523 67.5 L517 72 Z" fill="#f9d4da" stroke="#c77" stroke-width="0.35"/>
  <path d="M524 79 q5 -3 9 -2 q-3 3 -7 4z" fill="#f6bcc8" stroke="#d68" stroke-width="0.3"/>
  <g stroke="#d4566e" stroke-width="0.45" fill="none">
    <path d="M492 74 q4 4 6 9 q2 5 8 6"/><path d="M517 84 q3 3 1 8 q-2 4 -5 6"/><path d="M526 90 l9 -4 l0 2.5 l-9 4z"/><path d="M527 66 q1 4 -1 8"/><path d="M489 78 l2 6"/>
  </g>
  <!-- leader lines left -->
  <g stroke="#777" stroke-width="0.45" fill="none">
    <path d="M465 140.5 C474 139.5 478 132 486 126.5"/>
    <path d="M466.5 169.5 C476 169 481 162 491 156.5"/>
    <path d="M466 201.5 C474 201 480 193 488 187"/>
    <path d="M466 231 C474 230.5 482 222 490 215.5"/>
  </g>
  <!-- labels left -->
  <g font-size="6.9" fill="#222">
    <text x="438.6" y="141.5" textLength="24" lengthAdjust="spacingAndGlyphs">Cultural</text>
    <text x="438.6" y="149.3" textLength="24.5" lengthAdjust="spacingAndGlyphs">Tension</text>
    <text x="438.6" y="172.2" textLength="25" lengthAdjust="spacingAndGlyphs">Isolated</text>
    <text x="430.8" y="202.8" textLength="32" lengthAdjust="spacingAndGlyphs">Ecological</text>
    <text x="430.8" y="210.4" textLength="20.5" lengthAdjust="spacingAndGlyphs">Failure</text>
    <text x="443.8" y="232.8" textLength="19.5" lengthAdjust="spacingAndGlyphs">Empty</text>
  </g>
  <text x="421" y="88.8" font-size="4.6" fill="#3a3a8c" textLength="54" lengthAdjust="spacingAndGlyphs">Traditional Skate Park</text>

  <!-- RIGHT STACK -->
  <!-- layer5 adaptive -->
  <path d="M552 190 L585.7 211.8 L585.7 215 L552 193.2 Z" fill="#f08f80" stroke="#c77" stroke-width="0.3"/>
  <path d="M585.7 211.8 L628.4 186.7 L628.4 189.6 L585.7 215 Z" fill="#fffbe0" stroke="#888" stroke-width="0.35"/>
  <path d="M552 190 L594 167.8 L628.4 186.7 L585.7 211.8 Z" fill="#fdf9cf" stroke="#999" stroke-width="0.35"/>
  <g fill="none" stroke="#d8507c" stroke-width="0.6">
    <ellipse cx="589.5" cy="187" rx="7" ry="3.4" fill="#f6c8d8"/><ellipse cx="602" cy="192.5" rx="7.5" ry="3.4" fill="#fae0ea"/><ellipse cx="575.5" cy="193" rx="6.5" ry="3.2" fill="#fbe4ec" transform="rotate(-15 575.5 193)"/>
  </g>
  <g fill="#8cc860"><ellipse cx="574" cy="182" rx="4.5" ry="3.2"/><ellipse cx="600.5" cy="180.5" rx="4.5" ry="4"/><ellipse cx="574.5" cy="170.5" rx="2.8" ry="2.4"/></g>
  <path d="M592 174 q4 -2.5 8 -0.5 q-3 2.5 -8 0.5z" fill="#58a8e0"/>
  <g fill="#444"><rect x="557.5" y="184" width="1" height="3.4"/><rect x="563" y="186" width="1" height="3.2"/><rect x="586" y="193.5" width="1" height="3.4"/><rect x="595" y="196.5" width="1" height="3.4"/><rect x="611" y="185" width="1" height="3.2"/><rect x="583.5" y="181" width="1" height="3"/><rect x="569" y="189" width="1" height="3"/></g>
  <!-- layer4 purple -->
  <path d="M560.6 159 L585.2 172.9 L585.2 174.6 L560.6 160.7Z" fill="#b493cc"/>
  <path d="M585.2 172.9 L618 154 L618 155.6 L585.2 174.6Z" fill="#fff" stroke="#999" stroke-width="0.3"/>
  <path d="M560.6 159 L594 142.7 L618 154 L585.2 172.9 Z" fill="#fff" stroke="#999" stroke-width="0.35"/>
  <path d="M568 159 Q580 150 596 150 Q606 153 610 155 Q596 160 586 165 Q574 164 568 159Z" fill="#dcc4e6" opacity="0.85"/>
  <g fill="#5a4a70"><path d="M571 157.5 l1.5 -5 l1.5 5z"/><path d="M577 160 l2 -6 l1.6 6z"/><path d="M583 157 l1.5 -5.5 l1.6 5.5z"/><path d="M589 159.5 l1.5 -5 l1.6 5z"/><path d="M595 155 l1.4 -5 l1.5 5z"/><path d="M603 155 l1.5 -5 l1.5 5z"/><path d="M599.5 152 l1 -4 l1.2 4z"/><path d="M586 162 l1 -3.5 l1.2 3.5z"/></g>
  <!-- layer3 green -->
  <path d="M560.6 131.4 L584.7 144.7 L584.7 146.6 L560.6 133.3Z" fill="#8cc44c"/>
  <path d="M584.7 144.7 L616.6 127.6 L616.6 129.3 L584.7 146.6Z" fill="#fff" stroke="#999" stroke-width="0.3"/>
  <path d="M560.6 131.4 L590 115 L616.6 127.6 L584.7 144.7 Z" fill="#f4fae6" stroke="#9a9" stroke-width="0.35"/>
  <path d="M564 131.5 Q576 123 592 122 Q604 124 611 128 Q598 134 586 141 Q572 138 564 131.5Z" fill="#cfe6a4" opacity="0.9"/>
  <g stroke="#5a6a3a" stroke-width="0.45"><path d="M569 129 v-9 M576.5 133 v-9 M584 128 v-10 M592 131 v-10 M599 126 v-10 M606 127 v-8 M581 138 v-6 M589 137 v-6"/></g>
  <g fill="#86c254"><ellipse cx="569" cy="119" rx="3.2" ry="2.6"/><ellipse cx="576.5" cy="123" rx="3.4" ry="2.8"/><ellipse cx="584" cy="117" rx="3.4" ry="2.8"/><ellipse cx="592" cy="120" rx="3.2" ry="2.6"/><ellipse cx="599" cy="115.5" rx="3.4" ry="2.8"/><ellipse cx="606" cy="118.5" rx="3" ry="2.5"/><ellipse cx="581" cy="131.5" rx="2.6" ry="2"/><ellipse cx="589" cy="130.5" rx="2.6" ry="2"/><ellipse cx="573" cy="134" rx="3" ry="1.6"/><ellipse cx="596" cy="133" rx="3" ry="1.6"/></g>
  <!-- layer2 social -->
  <path d="M561.4 101.9 L586.8 117 L586.8 119.3 L561.4 104.2Z" fill="#4a94dc"/>
  <path d="M586.8 117 L619.4 98.5 L619.4 100.2 L586.8 119.3Z" fill="#fff" stroke="#999" stroke-width="0.3"/>
  <path d="M561.4 101.9 L589 87.7 L619.4 98.5 L586.8 117 Z" fill="#fff" stroke="#999" stroke-width="0.35"/>
  <path d="M578 98 Q586 88 598 89 Q604 93 600 98 Q592 102 584 104 Q579 102 578 98Z" fill="#b8daf4" opacity="0.9"/>
  <g fill="#3a4a60"><path d="M570 103 l1.2 -4 l1.3 4z"/><path d="M576 106 l1.4 -4.5 l1.4 4.5z"/><path d="M581 97.5 l1.3 -5 l1.4 5z"/><path d="M587 100 l1.4 -5 l1.4 5z"/><path d="M593 95.5 l1.3 -4.5 l1.4 4.5z"/><path d="M599 94 l1.3 -4.5 l1.3 4.5z"/><path d="M590 104.5 l1.4 -4 l1.4 4z"/><path d="M597 102 l1.2 -4 l1.4 4z"/><path d="M603 101.5 l1.2 -4 l1.2 4z"/><path d="M584 109 l1.2 -4 l1.3 4z"/><path d="M585.5 90.5 l1 -3 l1.2 3z"/></g>
  <!-- layer1 art -->
  <path d="M561.4 75.5 L587 90 L587 92.6 L561.4 78.1Z" fill="#e8985e"/>
  <path d="M587 90 L618.6 71.8 L618.6 73.8 L587 92.6Z" fill="#fff" stroke="#999" stroke-width="0.3"/>
  <path d="M561.4 75.5 L591 57.8 L618.6 71.8 L587 90 Z" fill="#fde8c2" stroke="#d9a870" stroke-width="0.35"/>
  <g fill="none" stroke="#6a4a38" stroke-width="0.7">
    <path d="M577 70 q-2 -8 1.5 -13 q3 -2 3 1.5 M581 64 q5 0 5 5 q-2 3 -6 2 M585 52 q-1 -2 -3 -2.5 M586 56 q1 -4 -1 -6.5 M588 76 q-3 2 -4 5 M585 73 q4 1 7 0 M599 53 q0 -2 -1 -3 M600 53 q1 -1 2 -3"/>
  </g>
  <g fill="#5a3a30"><path d="M596 64 l1 -5 l1.5 0 l0.5 5z"/><path d="M600.5 72 l0.8 -6 l1.6 0 l0.6 6z"/><path d="M604 70 l0.8 -5.5 l1.6 0 l0.6 5.5z"/><path d="M607 68.5 l0.6 -5 l1.4 0 l0.6 5z"/></g>
  <path d="M579 68 q2 -3 5 -2 q1 3 -2 5z" fill="#f0a070" opacity="0.7"/><ellipse cx="582" cy="63.5" rx="4.2" ry="7.5" fill="#fffaf0" stroke="#8a6a50" stroke-width="0.5"/><path d="M583 50 l2 5 l1.5 -6 l1 7" fill="none" stroke="#5a4a40" stroke-width="0.7"/>

  <!-- dashed leaders right -->
  <g fill="none" stroke-width="0.8" stroke-dasharray="1.6 1.2">
    <path d="M612.7 53.4 L635.5 41.5" stroke="#e08a50"/>
    <path d="M613.6 83.8 L631 73.5 Q634.5 71 639 70.6" stroke="#3a8cdc"/>
    <path d="M612.5 117 L631 105.5 Q634 103.3 638 103" stroke="#6cb84a"/>
    <path d="M612.5 145.5 L631 135.5 Q634 133.5 637 133.4" stroke="#b48cd0"/>
  </g>
  <!-- labels right -->
  <g font-size="7.2" fill="#222">
    <text x="639" y="42.4" textLength="36.5" lengthAdjust="spacingAndGlyphs">Art/Culture</text>
    <text x="655.8" y="72.3" text-anchor="middle" textLength="22" lengthAdjust="spacingAndGlyphs">Social/</text>
    <text x="656.5" y="80.3" text-anchor="middle" textLength="33.5" lengthAdjust="spacingAndGlyphs">Recreation</text>
    <text x="657" y="104.6" text-anchor="middle" textLength="19" lengthAdjust="spacingAndGlyphs">Green</text>
    <text x="657" y="112.6" text-anchor="middle" textLength="40.4" lengthAdjust="spacingAndGlyphs">Infrastructure</text>
    <text x="640.3" y="134.6" textLength="33.8" lengthAdjust="spacingAndGlyphs">Daily ritual</text>
  </g>
  <text x="631" y="189.8" font-size="4.6" fill="#3a3a8c" textLength="43" lengthAdjust="spacingAndGlyphs">Adaptive Skate Spot</text>
</g>


<!-- ============ SECTION D: Theory in Action ============ -->
<g id="secD">
  <defs>
    <linearGradient id="canopy" x1="0.85" y1="0.08" x2="0.12" y2="0.9">
      <stop offset="0" stop-color="#f6faf0"/><stop offset="0.35" stop-color="#e6f3d6"/><stop offset="0.65" stop-color="#cde6b0"/><stop offset="0.9" stop-color="#acd888"/><stop offset="1" stop-color="#9ed078"/>
    </linearGradient>
    <g id="tree">
      <path d="M-32 5 C-36 -10 -27 -23 -12 -27 C-4 -30 8 -30 16 -26 C28 -22 35 -10 33 2 C33 14 25 24 11 26 C4 30 -8 29 -14 25 C-24 23 -30 14 -32 5Z" fill="url(#canopy)" filter="url(#b1)"/>
      <path d="M-31 2 C-33 14 -24 22 -13 24.5 C-21 18 -27 10 -27 -4Z" fill="#9ccc74" opacity="0.7" filter="url(#b1)"/>
      <path d="M-14 24 C-6 29.5 4 29 12 25 C2 25.5 -6 24 -12 20Z" fill="#a0d07a" opacity="0.8" filter="url(#b1)"/>
      <path d="M-22 -12 C-16 -20 -8 -22 0 -20 C-8 -17 -14 -12 -18 -4Z" fill="#c2e0a2" opacity="0.6" filter="url(#b1)"/>
      <path d="M-26 -16 C-20 -26 -8 -31 4 -30 C16 -29 26 -24 30 -16" fill="none" stroke="#999" stroke-width="0.35"/>
      <path d="M-1.2 66 L-0.6 16 L-1 -3 M-0.8 20 L-6.5 10.5 M-0.3 14 L7 3" stroke="#333" stroke-width="0.9" fill="none" stroke-linejoin="round" stroke-linecap="round"/>
    </g>
    <g id="planter">
      <path d="M-33.6 5.6 C-34 11 -30 15 -24 18 L18.5 41 L27 37 L27 41 L18.5 45 L-24 22 C-31 18 -35 12 -33.6 5.6Z" fill="#efece1" stroke="#444" stroke-width="0.55"/>
      <path d="M-33.6 5.6 C-33 -1 -28 -5 -16.7 -8.3 C-10 -10.2 -5 -10.6 -2 -9.8 C4 -8 8 -2 12.6 3.4 L24 15 L29 33 L27 37 L18.5 41 L-24 18 C-30 15 -34 11 -33.6 5.6Z" fill="#fbfaf5" stroke="#444" stroke-width="0.6"/>
      <path d="M-26 2 C-24 -3 -18 -6 -12 -6.5" fill="none" stroke="#888" stroke-width="0.4"/>
      <path d="M-10.5 2 C-9 -4 -3 -4.5 1 -1 L17 15.5 L8 20 L-6 9 C-9 7 -11 5 -10.5 2Z" fill="#fff" stroke="#444" stroke-width="0.5"/>
      <path d="M-9 2.5 C-8 -2 -3 -2.5 0.5 0.5 L16 15.5 L8 19.5 L-5 8.5 C-8 6.5 -9.5 5 -9 2.5Z" fill="#5e9e3e"/>
      <path d="M-8 2 C-7 -1 -3 -1.5 0 1 L6 7 L-1 10 L-5 7 Z" fill="#78b450"/>
    </g>
  </defs>
  <text x="552" y="277.6" text-anchor="middle" font-size="14.1" class="t">Theory in Action</text>
  <!-- beige ground wash -->
  <g filter="url(#b2)" fill="#f5f3ea">
    <path d="M398 357 C420 350 450 352 480 355 C520 350 560 351 600 352 C615 354 624 362 618 374 C600 384 575 382 560 384 C545 392 520 392 505 386 C480 384 440 386 415 392 C402 388 396 368 398 357Z" opacity="0.9"/>
  </g>
  <!-- scene 1 -->
  <use href="#planter" transform="translate(466,370)"/>
  <use href="#tree" transform="translate(467,322)"/>
  <!-- stall -->
  <path d="M445 392 L452 388.5 L467 395 L467 411.5 L459.5 415 L445 408.5 Z" fill="#fff" stroke="#444" stroke-width="0.5"/>
  <path d="M459.5 398.5 L459.5 415 M445 392 L459.5 398.5 L467 395" fill="none" stroke="#444" stroke-width="0.5"/>
  <path d="M447.5 385.5 L453 383 L457 385 L457 391 L451.5 393.5 L447.5 391.5Z" fill="#fff" stroke="#444" stroke-width="0.45"/>
  <path d="M448 398 l9 4 l0 6 l-9 -4z" fill="#e8d6f0"/>
  <path d="M456.5 393.5 l5 -9 l2 9.5z" fill="#c8a4d8" stroke="#555" stroke-width="0.3"/>
  <path d="M450.5 384 v-5 m2.2 4 v-5 m2 5.5 v-4" stroke="#444" stroke-width="0.5"/>
  <!-- grate -->
  <path d="M483 390.5 L490.5 384.5 L502.5 392 L494 398.5Z" fill="#fff" stroke="#444" stroke-width="0.45"/>
  <path d="M487.5 390.6 L491 387.6 L497 391.6 L493.2 394.6Z" fill="#666"/>
  <!-- figures -->
  <g stroke="#555" stroke-width="0.45" fill="#eee"><path d="M436 382 l2.5 -4.5 l2.5 2 l-1 4.5 l-3 1z"/><path d="M504.5 401 l0.8 -17 l2 -2.5 l1.8 3 l-0.2 17z"/><path d="M509.5 401 l1 -5 l2 0 l0.5 5z"/><path d="M484 395 l1 -5 l2.5 0.5 l0.5 6z"/></g>

  <!-- scene 2 -->
  <use href="#planter" transform="translate(548.5,369.5)"/>
  <use href="#tree" transform="translate(548,321.5) scale(0.95,0.98)"/>
  <!-- people cluster -->
  <g stroke="#555" stroke-width="0.45">
    <path d="M564 386 l4 -5 l4 3 l3 -4 l4 4 l5 -2 l1 6 l4 4 l-4 6 l-6 3 l-8 -1 l-6 -5 l-3 -5z" fill="#e9e2ea"/>
    <circle cx="579" cy="407" r="3.4" fill="#efe8ee"/><circle cx="568" cy="396" r="2.2" fill="#f1ecf0"/>
    <path d="M570 388 l5 4 l6 -3 M574 396 l5 3 l5 -4 M568 391 l3 6" fill="none"/>
    <path d="M533 390 l1.5 -8 l3 -2 l2 3 l-1 8 l4 3 l-6 1z" fill="#f3f1ea"/>
  </g>
  <path d="M572 389 l4 3 l3 -2 l2 4 l-4 3 l-5 -2z" fill="#7a6a80"/>

  <!-- scene 3 -->
  <use href="#planter" transform="translate(628.5,371)"/>
  <use href="#tree" transform="translate(628,322.5) scale(0.98,0.97)"/>
  <!-- second bench -->
  <path d="M652 390 L660 386 L677 395 L677 399 L669 403 L652 394Z" fill="#fbfaf4" stroke="#555" stroke-width="0.45"/>
  <path d="M652 390 L669 399 L677 395 M669 399 L669 403" fill="none" stroke="#555" stroke-width="0.45"/>
  <path d="M643 388.5 L653 384 L665.5 390.5 L655 395.5Z" fill="#fff" stroke="#555" stroke-width="0.4"/>
  <path d="M648.5 388.6 L653.5 386.4 L660 390 L654.8 392.4Z" fill="#666"/>
  <!-- skater / figures / small trees -->
  <g stroke="#555" stroke-width="0.45" fill="#f4f4f0">
    <path d="M596 346 l4 -3 l1 3 l5 -1 l-4 3 l3 4 l-5 -2 l-3 4 l0 -5z"/>
    <path d="M626 392 l1 -10 l2.5 -3 l2.5 3 l0.5 10z"/>
    <path d="M667 383 c-2 -8 0 -16 2 -19 c3 4 3 12 1.5 19z" fill="#e4e4e0"/>
    <path d="M657 384 c-1 -5 0 -9 1.5 -11 c2 3 2 7 1 11z" fill="#e4e4e0"/>
    <path d="M672 384 c-1 -4 0 -8 1.5 -10 c2 3 2 6 1 10z" fill="#e4e4e0"/>
  </g>

  <!-- labels -->
  <g font-size="10" fill="#222">
    <text x="453.4" y="430.3" textLength="31" lengthAdjust="spacingAndGlyphs">Market</text>
    <text x="534" y="431.6" textLength="47" lengthAdjust="spacingAndGlyphs">Social Rec.</text>
    <text x="624.8" y="431" textLength="49.6" lengthAdjust="spacingAndGlyphs">Skateability</text>
  </g>
</g>


<!-- ============ SECTION E: Program ============ -->
<g id="secE">
  <text x="833.5" y="76" text-anchor="middle" font-size="13.8" class="t">Program</text>
  <text x="725" y="89.8" font-size="7.5" fill="#222" textLength="213" lengthAdjust="spacingAndGlyphs">Overlapping activity fields replace fixed zones, creating social</text>
  <text x="725" y="98.3" font-size="7.5" fill="#222" textLength="187" lengthAdjust="spacingAndGlyphs">ecotones that support flexible use and reinterpretation.</text>

  <g>
    <!-- green -->
    <path d="M771 151 C780 146 792 147 804 149 C816 151 826 152 836 148 C846 145 860 146 876 146 C892 145 906 148 913 156 C919 164 917 180 918 196 C919 214 922 232 920 246 C918 258 910 266 898 270 C880 274 860 268 842 268 C826 268 812 274 800 278 C786 282 770 282 763 276 C758 268 762 250 764 232 C766 212 762 192 764 174 C765 162 766 154 771 151Z" fill="#bcdab8" stroke="#86b684" stroke-width="1.5"/>
    <path d="M771 151 C780 146 792 147 804 149 C816 151 826 152 836 148 C846 145 860 146 876 146 C892 145 906 148 913 156 C919 164 917 180 918 196 C919 214 922 232 920 246 C918 258 910 266 898 270 C880 274 860 268 842 268 C826 268 812 274 800 278 C786 282 770 282 763 276 C758 268 762 250 764 232 C766 212 762 192 764 174 C765 162 766 154 771 151Z" fill="none" stroke="#9cc698" stroke-width="4" opacity="0.5" filter="url(#b1)"/>
    <!-- blue -->
    <clipPath id="cgreen"><path d="M771 151 C780 146 792 147 804 149 C816 151 826 152 836 148 C846 145 860 146 876 146 C892 145 906 148 913 156 C919 164 917 180 918 196 C919 214 922 232 920 246 C918 258 910 266 898 270 C880 274 860 268 842 268 C826 268 812 274 800 278 C786 282 770 282 763 276 C758 268 762 250 764 232 C766 212 762 192 764 174 C765 162 766 154 771 151Z"/></clipPath>
    <path d="M758 160 C764 156 772 157 778 160 C786 164 790 176 789 190 C788 204 790 218 794 230 C798 242 812 252 822 262 C814 272 800 278 788 277 C772 276 758 268 750 254 C742 238 740 214 742 196 C744 178 750 164 758 160Z" fill="#8db2e0" stroke="#6490cc" stroke-width="1.1" opacity="0.85"/>
    <path d="M758 160 C764 156 772 157 778 160 C786 164 790 176 789 190 C788 204 790 218 794 230 C798 242 812 252 822 262 C814 272 800 278 788 277 C772 276 758 268 750 254 C742 238 740 214 742 196 C744 178 750 164 758 160Z" fill="#9fc8c2" clip-path="url(#cgreen)" opacity="0.85"/>
    <path d="M756 162 C748 172 743 190 743.5 208 C744 230 748 250 758 262" fill="none" stroke="#6c98d4" stroke-width="3" opacity="0.45" filter="url(#b1)"/>
    <!-- peach ring + arrow -->
    <circle cx="785.5" cy="181.5" r="22" fill="#cdd1c9" opacity="0.85"/>
    <circle cx="786.5" cy="183" r="25" fill="none" stroke="#f2d9ba" stroke-width="7" opacity="0.95"/>
    <path d="M766 166 L749 152.5 L745.5 155.5 L733.5 143.5 L749 143.5 L747.5 147.5 L770 160Z" fill="#f4dcc0" stroke="#dcb890" stroke-width="0.6"/>
    <!-- peach bottom right -->
    <circle cx="896" cy="258" r="12.5" fill="#f6e2ca" opacity="0.9"/>
    <path d="M900 255 L922 256.5 L921.5 253 L938 259.5 L922.5 266.5 L922.5 263 L902 265.5Z" fill="#f4dcc0" stroke="#dcb890" stroke-width="0.6"/>
    <!-- pink -->
    <path d="M843 170 C842 158 852 152 866 151 C880 149 896 149 905 154 C914 160 913 176 914 194 C915 212 918 228 914 244 C910 260 902 272 888 272 C876 272 868 266 862 258 C880 244 890 226 890 206 C890 192 880 184 866 184 C856 184 846 180 843 170Z" fill="#f3cfe6" opacity="0.9"/>
    <!-- purple -->
    <path d="M784 251 C786 240 800 232 810 222 C818 212 826 200 840 196 C852 192 860 182 872 181 C888 180 898 192 898 210 C898 228 892 244 878 250 C866 256 852 252 840 254 C826 256 812 264 800 264 C790 264 783 260 784 251Z" fill="#bea6dc" opacity="0.93"/>
    <path d="M812 226 C822 214 836 204 850 202 C866 200 878 206 880 220 C882 234 872 246 858 248 C846 250 836 244 826 246 C816 248 808 240 812 226Z" fill="#cbb6e4" opacity="0.55"/>
  </g>
  <!-- dotted outlines -->
  <g fill="none" stroke="#999" stroke-width="0.5" stroke-dasharray="1.2 1.2">
    <circle cx="785.5" cy="181.5" r="21"/>
    <path d="M788 206 C786 220 790 232 797 238"/>
    <path d="M852 170 C862 162 880 160 894 166 C904 172 906 186 904 200"/>
    <path d="M822 216 C820 230 828 242 840 246 C850 250 858 256 862 262"/>
    <path d="M862 258 C870 266 884 270 896 268"/>
  </g>
  <!-- dash-dot rect -->
  <rect x="770" y="157.5" width="134" height="103" fill="none" stroke="#111" stroke-width="1.5" stroke-dasharray="38 2 3 2"/>

  <!-- legend blobs -->
  <g opacity="0.78">
    <circle cx="720.5" cy="321.5" r="5.2" fill="#f8e8d4" stroke="#f0cfa4" stroke-width="1.6"/>
    <path d="M716 317 L711 314.5 L708 313.5 L710.5 316.5 L714 319Z" fill="#f0cfa8"/>
    <circle cx="743.5" cy="339" r="3" fill="#f8e8d4" stroke="#f0cfa4" stroke-width="1.3"/>
    <path d="M746 338 L750 338.3 L750 337 L754 339.6 L750 342 L750 340.8 L746 341Z" fill="#f0cfa8"/>
    <path d="M768 318 C772 315.5 778 316 780 319 C781 324 777 328 779 332 C781 336 784 338 783 341 C779 344 771 343.5 768 340 C765 335 765 323 768 318Z" fill="#8fb4e0" stroke="#5d8ccc" stroke-width="0.7"/>
    <path d="M825 316 C830 313.5 836 315 842 314.5 C848 314 854 314 857.5 316.5 C859 322 858 330 858.5 338 C857 343 850 343.5 844 343 C838 344 830 344.5 825.5 342 C823.5 334 824 322 825 316Z M846 320 C841 320 837.5 324 838 329 C838.5 333 841 335.5 844.5 336 C846 337.5 849 338.5 853 338 L853 323 C851 321 849 320 846 320Z" fill="#a8d0a4" stroke="#74a872" stroke-width="0.7" fill-rule="evenodd"/>
    <path d="M885 337 C885 332 890 329 893 326 C896 322 901 320.5 905 321.5 C909 323 909 328 907 332 C905 336 899 335.5 896 337 C892 339 886 340.5 885 337Z" fill="#b99fd8" stroke="#9a7cc4" stroke-width="0.5"/>
    <path d="M952 318 C956 315.5 963 316 965.5 319 C967 324 966.5 330 967.5 335 C967 340 962 342.5 957 341.5 C954 340.5 953.5 337.5 955.5 336 L960 336 C962 332 961.5 327 959 324.5 C955.5 325.5 951.5 322 952 318Z" fill="#f0c4e0" stroke="#dc9cc8" stroke-width="0.5"/>
  </g>
  <!-- legend -->
  <g fill="none" stroke="#666" stroke-width="0.95" stroke-dasharray="7 0.9 1.2 0.9">
    <rect x="716.3" y="316.6" width="30.3" height="24.3"/>
    <rect x="771.4" y="316.6" width="30" height="24.3"/>
    <rect x="825.7" y="316.6" width="30.9" height="24.3"/>
    <rect x="880.6" y="316.6" width="30.8" height="24.3"/>
    <rect x="935.7" y="316.6" width="30.6" height="24.3"/>
  </g>
  <g class="t" font-size="7.05" text-anchor="middle" fill="#333">
    <text x="730.6" y="350.3">Neighborhood</text><text x="730.6" y="358.6">Portals</text>
    <text x="786.6" y="350.3">Education</text><text x="786.6" y="358.6">Zone</text>
    <text x="840.9" y="350.3">Green</text><text x="840.9" y="358.6">Infrastructure</text>
    <text x="896.6" y="350.3">Active</text><text x="896.6" y="358.6">Art Zone</text>
    <text x="949.4" y="350.3">Market Zone</text>
  </g>
</g>


</svg>
</body>
</html>
